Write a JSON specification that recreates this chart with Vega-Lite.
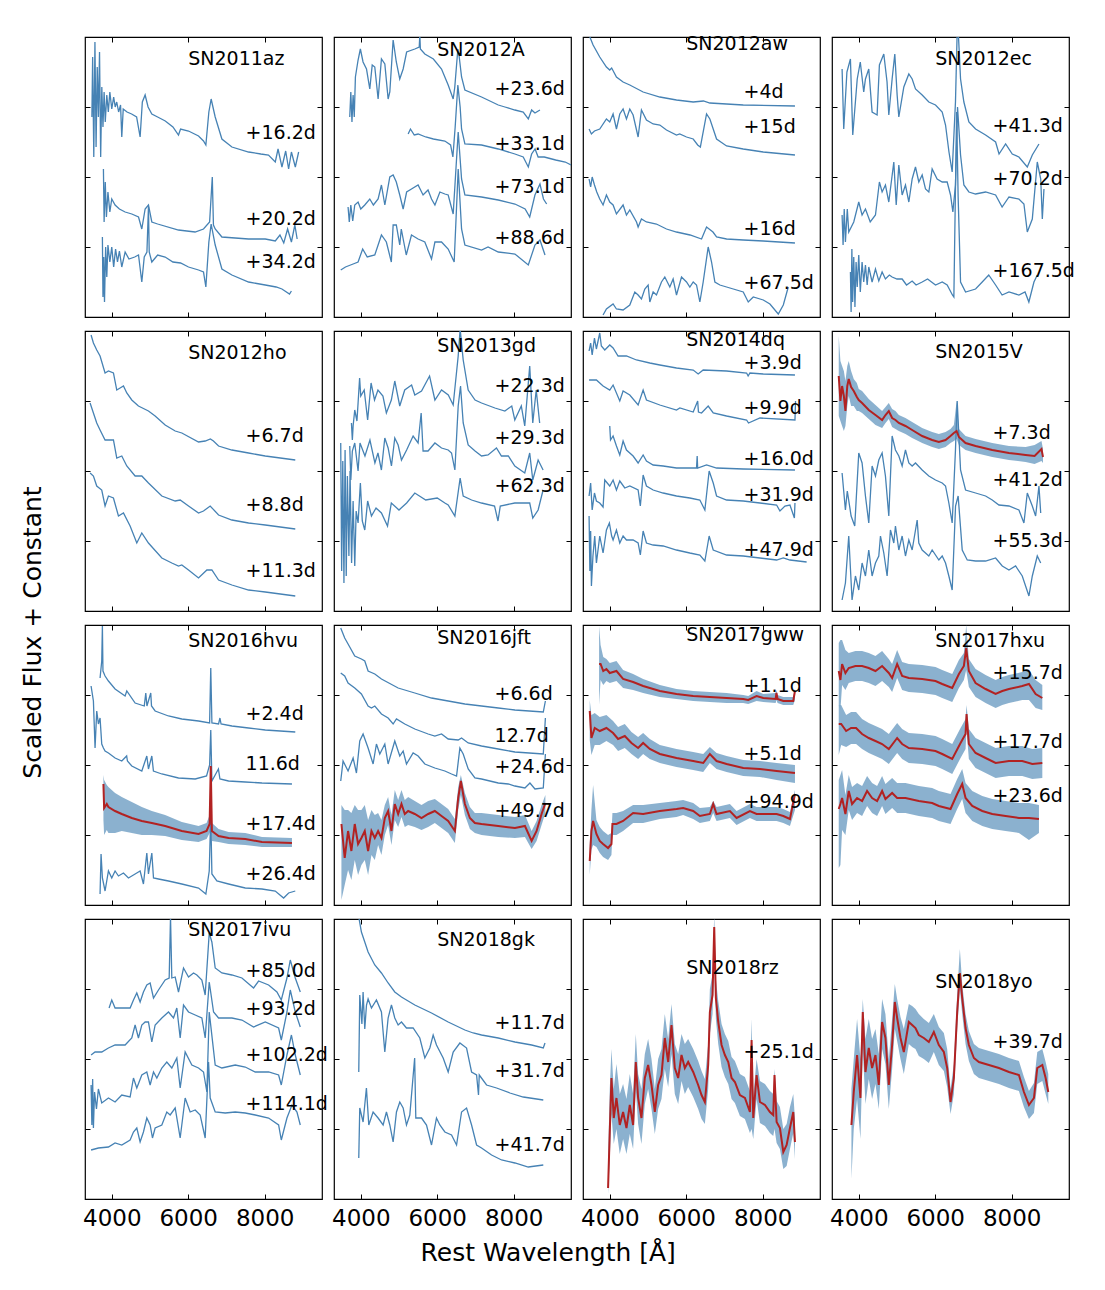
{
"$schema": "https://vega.github.io/schema/vega-lite/v6.json",
"background": "white",
"padding": {"left": 20, "top": 34, "right": 5, "bottom": 5},
"title": {"text": "Rest Wavelength [Å]", "orient": "bottom", "anchor": "middle", "fontSize": 25, "font": "DejaVu Sans", "fontWeight": "normal", "offset": 10, "color": "black"},
"data": {"values": [
{"p":1,"w":6000,"f":258,"t":"SN2011az"},{"p":1,"w":7500,"f":184,"t":"+16.2d"},{"p":1,"w":7500,"f":98,"t":"+20.2d"},{"p":1,"w":7500,"f":55,"t":"+34.2d"},
{"p":2,"w":6000,"f":267,"t":"SN2012A"},{"p":2,"w":7500,"f":228,"t":"+23.6d"},{"p":2,"w":7500,"f":173,"t":"+33.1d"},{"p":2,"w":7500,"f":130,"t":"+73.1d"},{"p":2,"w":7500,"f":79,"t":"+88.6d"},
{"p":3,"w":6000,"f":273,"t":"SN2012aw"},{"p":3,"w":7500,"f":225,"t":"+4d"},{"p":3,"w":7500,"f":190,"t":"+15d"},{"p":3,"w":7500,"f":88,"t":"+16d"},{"p":3,"w":7500,"f":34,"t":"+67.5d"},
{"p":4,"w":6000,"f":258,"t":"SN2012ec"},{"p":4,"w":7500,"f":191,"t":"+41.3d"},{"p":4,"w":7500,"f":138,"t":"+70.2d"},{"p":4,"w":7500,"f":46,"t":"+167.5d"},
{"p":5,"w":6000,"f":258,"t":"SN2012ho"},{"p":5,"w":7500,"f":175,"t":"+6.7d"},{"p":5,"w":7500,"f":106,"t":"+8.8d"},{"p":5,"w":7500,"f":40,"t":"+11.3d"},
{"p":6,"w":6000,"f":265,"t":"SN2013gd"},{"p":6,"w":7500,"f":225,"t":"+22.3d"},{"p":6,"w":7500,"f":173,"t":"+29.3d"},{"p":6,"w":7500,"f":125,"t":"+62.3d"},
{"p":7,"w":6000,"f":271,"t":"SN2014dq"},{"p":7,"w":7500,"f":248,"t":"+3.9d"},{"p":7,"w":7500,"f":203,"t":"+9.9d"},{"p":7,"w":7500,"f":152,"t":"+16.0d"},{"p":7,"w":7500,"f":116,"t":"+31.9d"},{"p":7,"w":7500,"f":61,"t":"+47.9d"},
{"p":8,"w":6000,"f":259,"t":"SN2015V"},{"p":8,"w":7500,"f":178,"t":"+7.3d"},{"p":8,"w":7500,"f":131,"t":"+41.2d"},{"p":8,"w":7500,"f":70,"t":"+55.3d"},
{"p":9,"w":6000,"f":264,"t":"SN2016hvu"},{"p":9,"w":7500,"f":191,"t":"+2.4d"},{"p":9,"w":7500,"f":141,"t":"11.6d"},{"p":9,"w":7500,"f":81,"t":"+17.4d"},{"p":9,"w":7500,"f":31,"t":"+26.4d"},
{"p":10,"w":6000,"f":267,"t":"SN2016jft"},{"p":10,"w":7500,"f":211,"t":"+6.6d"},{"p":10,"w":7500,"f":169,"t":"12.7d"},{"p":10,"w":7500,"f":138,"t":"+24.6d"},{"p":10,"w":7500,"f":94,"t":"+49.7d"},
{"p":11,"w":6000,"f":270,"t":"SN2017gww"},{"p":11,"w":7500,"f":219,"t":"+1.1d"},{"p":11,"w":7500,"f":151,"t":"+5.1d"},{"p":11,"w":7500,"f":103,"t":"+94.9d"},
{"p":12,"w":6000,"f":264,"t":"SN2017hxu"},{"p":12,"w":7500,"f":232,"t":"+15.7d"},{"p":12,"w":7500,"f":163,"t":"+17.7d"},{"p":12,"w":7500,"f":109,"t":"+23.6d"},
{"p":13,"w":6000,"f":269,"t":"SN2017ivu"},{"p":13,"w":7500,"f":228,"t":"+85.0d"},{"p":13,"w":7500,"f":190,"t":"+93.2d"},{"p":13,"w":7500,"f":144,"t":"+102.2d"},{"p":13,"w":7500,"f":95,"t":"+114.1d"},
{"p":14,"w":6000,"f":259,"t":"SN2018gk"},{"p":14,"w":7500,"f":176,"t":"+11.7d"},{"p":14,"w":7500,"f":128,"t":"+31.7d"},{"p":14,"w":7500,"f":54,"t":"+41.7d"},
{"p":15,"w":6000,"f":231,"t":"SN2018rz"},{"p":15,"w":7500,"f":147,"t":"+25.1d"},
{"p":16,"w":6000,"f":217,"t":"SN2018yo"},{"p":16,"w":7500,"f":157,"t":"+39.7d"},

{"p":1,"s":1,"w":3480,"f":200},{"p":1,"s":1,"w":3500,"f":260},{"p":1,"s":1,"w":3530,"f":160},{"p":1,"s":1,"w":3560,"f":275},{"p":1,"s":1,"w":3590,"f":170},{"p":1,"s":1,"w":3620,"f":250},{"p":1,"s":1,"w":3650,"f":200},{"p":1,"s":1,"w":3680,"f":265},{"p":1,"s":1,"w":3710,"f":160},{"p":1,"s":1,"w":3740,"f":230},{"p":1,"s":1,"w":3770,"f":190},{"p":1,"s":1,"w":3800,"f":225},{"p":1,"s":1,"w":3830,"f":195},{"p":1,"s":1,"w":3870,"f":222},{"p":1,"s":1,"w":3910,"f":205},{"p":1,"s":1,"w":3950,"f":225},{"p":1,"s":1,"w":4000,"f":208},{"p":1,"s":1,"w":4050,"f":220},{"p":1,"s":1,"w":4090,"f":210},{"p":1,"s":1,"w":4130,"f":215},{"p":1,"s":1,"w":4180,"f":205},{"p":1,"s":1,"w":4230,"f":212},{"p":1,"s":1,"w":4262,"f":180},{"p":1,"s":1,"w":4300,"f":208},{"p":1,"s":1,"w":4400,"f":205},{"p":1,"s":1,"w":4520,"f":203},{"p":1,"s":1,"w":4650,"f":200},{"p":1,"s":1,"w":4742,"f":180},{"p":1,"s":1,"w":4800,"f":215},{"p":1,"s":1,"w":4873,"f":222},{"p":1,"s":1,"w":4950,"f":210},{"p":1,"s":1,"w":5048,"f":203},{"p":1,"s":1,"w":5200,"f":200},{"p":1,"s":1,"w":5400,"f":196},{"p":1,"s":1,"w":5600,"f":190},{"p":1,"s":1,"w":5746,"f":182},{"p":1,"s":1,"w":5800,"f":188},{"p":1,"s":1,"w":6008,"f":186},{"p":1,"s":1,"w":6270,"f":181},{"p":1,"s":1,"w":6400,"f":176},{"p":1,"s":1,"w":6462,"f":172},{"p":1,"s":1,"w":6540,"f":205},{"p":1,"s":1,"w":6600,"f":218},{"p":1,"s":1,"w":6706,"f":200},{"p":1,"s":1,"w":6881,"f":178},{"p":1,"s":1,"w":7143,"f":170},{"p":1,"s":1,"w":7579,"f":165},{"p":1,"s":1,"w":7900,"f":163},{"p":1,"s":1,"w":8100,"f":162},{"p":1,"s":1,"w":8278,"f":155},{"p":1,"s":1,"w":8350,"f":168},{"p":1,"s":1,"w":8452,"f":150},{"p":1,"s":1,"w":8550,"f":166},{"p":1,"s":1,"w":8627,"f":148},{"p":1,"s":1,"w":8700,"f":165},{"p":1,"s":1,"w":8802,"f":150},{"p":1,"s":1,"w":8889,"f":165},
{"p":1,"s":2,"w":3782,"f":148},{"p":1,"s":2,"w":3800,"f":95},{"p":1,"s":2,"w":3830,"f":135},{"p":1,"s":2,"w":3860,"f":100},{"p":1,"s":2,"w":3900,"f":125},{"p":1,"s":2,"w":3950,"f":105},{"p":1,"s":2,"w":4000,"f":118},{"p":1,"s":2,"w":4087,"f":112},{"p":1,"s":2,"w":4200,"f":108},{"p":1,"s":2,"w":4350,"f":105},{"p":1,"s":2,"w":4524,"f":103},{"p":1,"s":2,"w":4700,"f":100},{"p":1,"s":2,"w":4786,"f":88},{"p":1,"s":2,"w":4873,"f":108},{"p":1,"s":2,"w":4960,"f":112},{"p":1,"s":2,"w":5048,"f":95},{"p":1,"s":2,"w":5200,"f":93},{"p":1,"s":2,"w":5746,"f":87},{"p":1,"s":2,"w":6180,"f":85},{"p":1,"s":2,"w":6400,"f":88},{"p":1,"s":2,"w":6560,"f":95},{"p":1,"s":2,"w":6630,"f":140},{"p":1,"s":2,"w":6660,"f":92},{"p":1,"s":2,"w":6706,"f":88},{"p":1,"s":2,"w":6881,"f":80},{"p":1,"s":2,"w":7579,"f":78},{"p":1,"s":2,"w":8016,"f":78},{"p":1,"s":2,"w":8278,"f":76},{"p":1,"s":2,"w":8400,"f":82},{"p":1,"s":2,"w":8500,"f":74},{"p":1,"s":2,"w":8600,"f":88},{"p":1,"s":2,"w":8700,"f":75},{"p":1,"s":2,"w":8790,"f":92},{"p":1,"s":2,"w":8850,"f":78},
{"p":1,"s":3,"w":3755,"f":80},{"p":1,"s":3,"w":3770,"f":20},{"p":1,"s":3,"w":3790,"f":60},{"p":1,"s":3,"w":3810,"f":15},{"p":1,"s":3,"w":3840,"f":70},{"p":1,"s":3,"w":3870,"f":40},{"p":1,"s":3,"w":3900,"f":72},{"p":1,"s":3,"w":3950,"f":55},{"p":1,"s":3,"w":4000,"f":70},{"p":1,"s":3,"w":4050,"f":50},{"p":1,"s":3,"w":4100,"f":68},{"p":1,"s":3,"w":4150,"f":55},{"p":1,"s":3,"w":4200,"f":66},{"p":1,"s":3,"w":4262,"f":50},{"p":1,"s":3,"w":4350,"f":65},{"p":1,"s":3,"w":4450,"f":58},{"p":1,"s":3,"w":4600,"f":60},{"p":1,"s":3,"w":4700,"f":62},{"p":1,"s":3,"w":4786,"f":35},{"p":1,"s":3,"w":4850,"f":60},{"p":1,"s":3,"w":4920,"f":65},{"p":1,"s":3,"w":4960,"f":110},{"p":1,"s":3,"w":4980,"f":65},{"p":1,"s":3,"w":5048,"f":55},{"p":1,"s":3,"w":5200,"f":62},{"p":1,"s":3,"w":5397,"f":60},{"p":1,"s":3,"w":5600,"f":55},{"p":1,"s":3,"w":5800,"f":54},{"p":1,"s":3,"w":6008,"f":50},{"p":1,"s":3,"w":6270,"f":47},{"p":1,"s":3,"w":6400,"f":45},{"p":1,"s":3,"w":6462,"f":30},{"p":1,"s":3,"w":6540,"f":75},{"p":1,"s":3,"w":6600,"f":93},{"p":1,"s":3,"w":6706,"f":72},{"p":1,"s":3,"w":6881,"f":48},{"p":1,"s":3,"w":7143,"f":42},{"p":1,"s":3,"w":7579,"f":35},{"p":1,"s":3,"w":8016,"f":32},{"p":1,"s":3,"w":8300,"f":30},{"p":1,"s":3,"w":8452,"f":28},{"p":1,"s":3,"w":8650,"f":23},{"p":1,"s":3,"w":8700,"f":26},

{"p":2,"s":1,"w":3712,"f":200},{"p":2,"s":1,"w":3740,"f":225},{"p":2,"s":1,"w":3770,"f":195},{"p":2,"s":1,"w":3800,"f":222},{"p":2,"s":1,"w":3830,"f":200},{"p":2,"s":1,"w":3860,"f":240},{"p":2,"s":1,"w":3930,"f":257},{"p":2,"s":1,"w":3990,"f":268},{"p":2,"s":1,"w":4060,"f":255},{"p":2,"s":1,"w":4150,"f":248},{"p":2,"s":1,"w":4236,"f":228},{"p":2,"s":1,"w":4300,"f":252},{"p":2,"s":1,"w":4367,"f":250},{"p":2,"s":1,"w":4454,"f":218},{"p":2,"s":1,"w":4541,"f":258},{"p":2,"s":1,"w":4630,"f":253},{"p":2,"s":1,"w":4716,"f":218},{"p":2,"s":1,"w":4760,"f":225},{"p":2,"s":1,"w":4847,"f":277},{"p":2,"s":1,"w":4930,"f":255},{"p":2,"s":1,"w":5020,"f":238},{"p":2,"s":1,"w":5109,"f":248},{"p":2,"s":1,"w":5200,"f":265},{"p":2,"s":1,"w":5414,"f":268},{"p":2,"s":1,"w":5530,"f":270},{"p":2,"s":1,"w":5545,"f":282},{"p":2,"s":1,"w":5560,"f":268},{"p":2,"s":1,"w":5676,"f":263},{"p":2,"s":1,"w":5900,"f":258},{"p":2,"s":1,"w":6113,"f":248},{"p":2,"s":1,"w":6287,"f":232},{"p":2,"s":1,"w":6418,"f":218},{"p":2,"s":1,"w":6460,"f":230},{"p":2,"s":1,"w":6540,"f":268},{"p":2,"s":1,"w":6570,"f":262},{"p":2,"s":1,"w":6637,"f":240},{"p":2,"s":1,"w":6724,"f":227},{"p":2,"s":1,"w":7160,"f":220},{"p":2,"s":1,"w":7597,"f":212},{"p":2,"s":1,"w":7771,"f":210},{"p":2,"s":1,"w":8033,"f":207},{"p":2,"s":1,"w":8250,"f":205},{"p":2,"s":1,"w":8383,"f":198},{"p":2,"s":1,"w":8470,"f":207},{"p":2,"s":1,"w":8557,"f":204},{"p":2,"s":1,"w":8688,"f":207},
{"p":2,"s":2,"w":5240,"f":183},{"p":2,"s":2,"w":5300,"f":188},{"p":2,"s":2,"w":5400,"f":182},{"p":2,"s":2,"w":5500,"f":183},{"p":2,"s":2,"w":5700,"f":180},{"p":2,"s":2,"w":5900,"f":178},{"p":2,"s":2,"w":6200,"f":176},{"p":2,"s":2,"w":6350,"f":172},{"p":2,"s":2,"w":6410,"f":160},{"p":2,"s":2,"w":6470,"f":190},{"p":2,"s":2,"w":6540,"f":232},{"p":2,"s":2,"w":6600,"f":210},{"p":2,"s":2,"w":6637,"f":188},{"p":2,"s":2,"w":6724,"f":173},{"p":2,"s":2,"w":7160,"f":172},{"p":2,"s":2,"w":7597,"f":168},{"p":2,"s":2,"w":8033,"f":163},{"p":2,"s":2,"w":8250,"f":160},{"p":2,"s":2,"w":8383,"f":150},{"p":2,"s":2,"w":8470,"f":163},{"p":2,"s":2,"w":8560,"f":168},{"p":2,"s":2,"w":8640,"f":160},{"p":2,"s":2,"w":8800,"f":160},{"p":2,"s":2,"w":9100,"f":157},{"p":2,"s":2,"w":9350,"f":155},{"p":2,"s":2,"w":9500,"f":152},
{"p":2,"s":3,"w":3668,"f":110},{"p":2,"s":3,"w":3700,"f":95},{"p":2,"s":3,"w":3740,"f":112},{"p":2,"s":3,"w":3790,"f":96},{"p":2,"s":3,"w":3843,"f":112},{"p":2,"s":3,"w":3930,"f":115},{"p":2,"s":3,"w":4000,"f":108},{"p":2,"s":3,"w":4105,"f":112},{"p":2,"s":3,"w":4236,"f":118},{"p":2,"s":3,"w":4330,"f":112},{"p":2,"s":3,"w":4454,"f":118},{"p":2,"s":3,"w":4541,"f":132},{"p":2,"s":3,"w":4630,"f":112},{"p":2,"s":3,"w":4760,"f":140},{"p":2,"s":3,"w":4847,"f":142},{"p":2,"s":3,"w":4930,"f":135},{"p":2,"s":3,"w":5020,"f":122},{"p":2,"s":3,"w":5109,"f":108},{"p":2,"s":3,"w":5200,"f":125},{"p":2,"s":3,"w":5327,"f":128},{"p":2,"s":3,"w":5500,"f":132},{"p":2,"s":3,"w":5630,"f":122},{"p":2,"s":3,"w":5760,"f":127},{"p":2,"s":3,"w":5851,"f":118},{"p":2,"s":3,"w":5940,"f":112},{"p":2,"s":3,"w":6070,"f":125},{"p":2,"s":3,"w":6200,"f":123},{"p":2,"s":3,"w":6287,"f":122},{"p":2,"s":3,"w":6418,"f":103},{"p":2,"s":3,"w":6549,"f":185},{"p":2,"s":3,"w":6637,"f":138},{"p":2,"s":3,"w":6724,"f":122},{"p":2,"s":3,"w":7160,"f":120},{"p":2,"s":3,"w":7597,"f":117},{"p":2,"s":3,"w":8033,"f":113},{"p":2,"s":3,"w":8300,"f":108},{"p":2,"s":3,"w":8420,"f":100},{"p":2,"s":3,"w":8557,"f":122},{"p":2,"s":3,"w":8688,"f":133},{"p":2,"s":3,"w":8780,"f":118},{"p":2,"s":3,"w":8863,"f":113},
{"p":2,"s":4,"w":3476,"f":47},{"p":2,"s":4,"w":3600,"f":50},{"p":2,"s":4,"w":3800,"f":53},{"p":2,"s":4,"w":3930,"f":55},{"p":2,"s":4,"w":4050,"f":68},{"p":2,"s":4,"w":4170,"f":60},{"p":2,"s":4,"w":4367,"f":62},{"p":2,"s":4,"w":4541,"f":82},{"p":2,"s":4,"w":4670,"f":75},{"p":2,"s":4,"w":4800,"f":55},{"p":2,"s":4,"w":4847,"f":92},{"p":2,"s":4,"w":4930,"f":92},{"p":2,"s":4,"w":5020,"f":72},{"p":2,"s":4,"w":5060,"f":88},{"p":2,"s":4,"w":5190,"f":62},{"p":2,"s":4,"w":5327,"f":82},{"p":2,"s":4,"w":5500,"f":78},{"p":2,"s":4,"w":5676,"f":75},{"p":2,"s":4,"w":5851,"f":58},{"p":2,"s":4,"w":5940,"f":75},{"p":2,"s":4,"w":6113,"f":75},{"p":2,"s":4,"w":6287,"f":68},{"p":2,"s":4,"w":6444,"f":55},{"p":2,"s":4,"w":6549,"f":148},{"p":2,"s":4,"w":6637,"f":88},{"p":2,"s":4,"w":6724,"f":72},{"p":2,"s":4,"w":7160,"f":67},{"p":2,"s":4,"w":7330,"f":70},{"p":2,"s":4,"w":7597,"f":65},{"p":2,"s":4,"w":8033,"f":63},{"p":2,"s":4,"w":8383,"f":52},{"p":2,"s":4,"w":8557,"f":72},{"p":2,"s":4,"w":8688,"f":77},{"p":2,"s":4,"w":8820,"f":62},

{"p":3,"s":1,"w":3459,"f":282},{"p":3,"s":1,"w":3564,"f":272},{"p":3,"s":1,"w":3738,"f":260},{"p":3,"s":1,"w":3913,"f":250},{"p":3,"s":1,"w":4000,"f":247},{"p":3,"s":1,"w":4050,"f":249},{"p":3,"s":1,"w":4175,"f":240},{"p":3,"s":1,"w":4349,"f":235},{"p":3,"s":1,"w":4524,"f":232},{"p":3,"s":1,"w":4873,"f":225},{"p":3,"s":1,"w":5310,"f":220},{"p":3,"s":1,"w":5746,"f":217},{"p":3,"s":1,"w":6183,"f":215},{"p":3,"s":1,"w":6450,"f":216},{"p":3,"s":1,"w":6619,"f":214},{"p":3,"s":1,"w":7492,"f":212},{"p":3,"s":1,"w":8845,"f":211},
{"p":3,"s":2,"w":3459,"f":188},{"p":3,"s":2,"w":3520,"f":183},{"p":3,"s":2,"w":3600,"f":186},{"p":3,"s":2,"w":3738,"f":188},{"p":3,"s":2,"w":3913,"f":198},{"p":3,"s":2,"w":4000,"f":195},{"p":3,"s":2,"w":4087,"f":203},{"p":3,"s":2,"w":4175,"f":188},{"p":3,"s":2,"w":4262,"f":203},{"p":3,"s":2,"w":4349,"f":208},{"p":3,"s":2,"w":4437,"f":198},{"p":3,"s":2,"w":4524,"f":208},{"p":3,"s":2,"w":4611,"f":202},{"p":3,"s":2,"w":4742,"f":180},{"p":3,"s":2,"w":4829,"f":207},{"p":3,"s":2,"w":4960,"f":197},{"p":3,"s":2,"w":5135,"f":193},{"p":3,"s":2,"w":5310,"f":192},{"p":3,"s":2,"w":5484,"f":187},{"p":3,"s":2,"w":5746,"f":182},{"p":3,"s":2,"w":5830,"f":183},{"p":3,"s":2,"w":6008,"f":180},{"p":3,"s":2,"w":6183,"f":178},{"p":3,"s":2,"w":6300,"f":172},{"p":3,"s":2,"w":6370,"f":170},{"p":3,"s":2,"w":6532,"f":203},{"p":3,"s":2,"w":6619,"f":198},{"p":3,"s":2,"w":6794,"f":178},{"p":3,"s":2,"w":7056,"f":171},{"p":3,"s":2,"w":7492,"f":168},{"p":3,"s":2,"w":7667,"f":167},{"p":3,"s":2,"w":8016,"f":165},{"p":3,"s":2,"w":8845,"f":162},
{"p":3,"s":3,"w":3459,"f":138},{"p":3,"s":3,"w":3500,"f":130},{"p":3,"s":3,"w":3540,"f":140},{"p":3,"s":3,"w":3600,"f":132},{"p":3,"s":3,"w":3660,"f":125},{"p":3,"s":3,"w":3738,"f":118},{"p":3,"s":3,"w":3825,"f":112},{"p":3,"s":3,"w":3913,"f":122},{"p":3,"s":3,"w":4000,"f":115},{"p":3,"s":3,"w":4087,"f":112},{"p":3,"s":3,"w":4175,"f":103},{"p":3,"s":3,"w":4349,"f":112},{"p":3,"s":3,"w":4437,"f":102},{"p":3,"s":3,"w":4524,"f":107},{"p":3,"s":3,"w":4700,"f":95},{"p":3,"s":3,"w":4742,"f":90},{"p":3,"s":3,"w":4829,"f":98},{"p":3,"s":3,"w":4960,"f":95},{"p":3,"s":3,"w":5220,"f":93},{"p":3,"s":3,"w":5484,"f":88},{"p":3,"s":3,"w":5746,"f":85},{"p":3,"s":3,"w":6100,"f":82},{"p":3,"s":3,"w":6401,"f":78},{"p":3,"s":3,"w":6532,"f":90},{"p":3,"s":3,"w":6700,"f":85},{"p":3,"s":3,"w":6794,"f":80},{"p":3,"s":3,"w":7056,"f":78},{"p":3,"s":3,"w":7492,"f":77},{"p":3,"s":3,"w":8016,"f":76},{"p":3,"s":3,"w":8845,"f":74},
{"p":3,"s":4,"w":3825,"f":2},{"p":3,"s":4,"w":3913,"f":8},{"p":3,"s":4,"w":4087,"f":13},{"p":3,"s":4,"w":4175,"f":8},{"p":3,"s":4,"w":4349,"f":7},{"p":3,"s":4,"w":4524,"f":12},{"p":3,"s":4,"w":4655,"f":25},{"p":3,"s":4,"w":4742,"f":22},{"p":3,"s":4,"w":4829,"f":18},{"p":3,"s":4,"w":4917,"f":28},{"p":3,"s":4,"w":5004,"f":32},{"p":3,"s":4,"w":5048,"f":15},{"p":3,"s":4,"w":5135,"f":25},{"p":3,"s":4,"w":5222,"f":22},{"p":3,"s":4,"w":5353,"f":35},{"p":3,"s":4,"w":5440,"f":40},{"p":3,"s":4,"w":5571,"f":30},{"p":3,"s":4,"w":5658,"f":38},{"p":3,"s":4,"w":5746,"f":22},{"p":3,"s":4,"w":5877,"f":40},{"p":3,"s":4,"w":6008,"f":35},{"p":3,"s":4,"w":6095,"f":30},{"p":3,"s":4,"w":6183,"f":35},{"p":3,"s":4,"w":6270,"f":32},{"p":3,"s":4,"w":6357,"f":15},{"p":3,"s":4,"w":6444,"f":35},{"p":3,"s":4,"w":6575,"f":70},{"p":3,"s":4,"w":6663,"f":55},{"p":3,"s":4,"w":6750,"f":35},{"p":3,"s":4,"w":6881,"f":32},{"p":3,"s":4,"w":7056,"f":30},{"p":3,"s":4,"w":7492,"f":25},{"p":3,"s":4,"w":7623,"f":15},{"p":3,"s":4,"w":7754,"f":20},{"p":3,"s":4,"w":8016,"f":17},{"p":3,"s":4,"w":8190,"f":13},{"p":3,"s":4,"w":8409,"f":3},{"p":3,"s":4,"w":8540,"f":12},{"p":3,"s":4,"w":8670,"f":30},

{"p":4,"s":1,"w":3564,"f":248},{"p":4,"s":1,"w":3607,"f":188},{"p":4,"s":1,"w":3690,"f":245},{"p":4,"s":1,"w":3782,"f":258},{"p":4,"s":1,"w":3843,"f":182},{"p":4,"s":1,"w":3960,"f":238},{"p":4,"s":1,"w":4040,"f":255},{"p":4,"s":1,"w":4130,"f":225},{"p":4,"s":1,"w":4175,"f":238},{"p":4,"s":1,"w":4262,"f":248},{"p":4,"s":1,"w":4349,"f":205},{"p":4,"s":1,"w":4480,"f":202},{"p":4,"s":1,"w":4540,"f":252},{"p":4,"s":1,"w":4655,"f":263},{"p":4,"s":1,"w":4740,"f":235},{"p":4,"s":1,"w":4786,"f":202},{"p":4,"s":1,"w":4873,"f":238},{"p":4,"s":1,"w":4943,"f":263},{"p":4,"s":1,"w":5004,"f":222},{"p":4,"s":1,"w":5048,"f":200},{"p":4,"s":1,"w":5179,"f":230},{"p":4,"s":1,"w":5310,"f":243},{"p":4,"s":1,"w":5397,"f":238},{"p":4,"s":1,"w":5484,"f":228},{"p":4,"s":1,"w":5659,"f":222},{"p":4,"s":1,"w":5833,"f":215},{"p":4,"s":1,"w":6008,"f":212},{"p":4,"s":1,"w":6183,"f":205},{"p":4,"s":1,"w":6270,"f":192},{"p":4,"s":1,"w":6360,"f":165},{"p":4,"s":1,"w":6444,"f":145},{"p":4,"s":1,"w":6530,"f":215},{"p":4,"s":1,"w":6584,"f":300},{"p":4,"s":1,"w":6663,"f":238},{"p":4,"s":1,"w":6750,"f":215},{"p":4,"s":1,"w":6881,"f":195},{"p":4,"s":1,"w":7056,"f":188},{"p":4,"s":1,"w":7318,"f":182},{"p":4,"s":1,"w":7580,"f":175},{"p":4,"s":1,"w":7670,"f":163},{"p":4,"s":1,"w":7842,"f":173},{"p":4,"s":1,"w":8016,"f":163},{"p":4,"s":1,"w":8190,"f":160},{"p":4,"s":1,"w":8409,"f":150},{"p":4,"s":1,"w":8540,"f":162},{"p":4,"s":1,"w":8714,"f":173},
{"p":4,"s":2,"w":3564,"f":102},{"p":4,"s":2,"w":3590,"f":72},{"p":4,"s":2,"w":3620,"f":108},{"p":4,"s":2,"w":3651,"f":75},{"p":4,"s":2,"w":3700,"f":108},{"p":4,"s":2,"w":3738,"f":85},{"p":4,"s":2,"w":3869,"f":95},{"p":4,"s":2,"w":4000,"f":115},{"p":4,"s":2,"w":4087,"f":102},{"p":4,"s":2,"w":4175,"f":108},{"p":4,"s":2,"w":4300,"f":95},{"p":4,"s":2,"w":4437,"f":102},{"p":4,"s":2,"w":4540,"f":135},{"p":4,"s":2,"w":4611,"f":125},{"p":4,"s":2,"w":4698,"f":132},{"p":4,"s":2,"w":4786,"f":115},{"p":4,"s":2,"w":4917,"f":155},{"p":4,"s":2,"w":4980,"f":112},{"p":4,"s":2,"w":5048,"f":152},{"p":4,"s":2,"w":5135,"f":122},{"p":4,"s":2,"w":5222,"f":132},{"p":4,"s":2,"w":5310,"f":115},{"p":4,"s":2,"w":5397,"f":138},{"p":4,"s":2,"w":5484,"f":150},{"p":4,"s":2,"w":5571,"f":135},{"p":4,"s":2,"w":5659,"f":142},{"p":4,"s":2,"w":5746,"f":128},{"p":4,"s":2,"w":5833,"f":125},{"p":4,"s":2,"w":5920,"f":148},{"p":4,"s":2,"w":6050,"f":138},{"p":4,"s":2,"w":6183,"f":135},{"p":4,"s":2,"w":6313,"f":135},{"p":4,"s":2,"w":6401,"f":122},{"p":4,"s":2,"w":6462,"f":105},{"p":4,"s":2,"w":6530,"f":132},{"p":4,"s":2,"w":6584,"f":210},{"p":4,"s":2,"w":6663,"f":162},{"p":4,"s":2,"w":6750,"f":132},{"p":4,"s":2,"w":6881,"f":125},{"p":4,"s":2,"w":7056,"f":123},{"p":4,"s":2,"w":7318,"f":125},{"p":4,"s":2,"w":7580,"f":122},{"p":4,"s":2,"w":7750,"f":110},{"p":4,"s":2,"w":7930,"f":120},{"p":4,"s":2,"w":8190,"f":118},{"p":4,"s":2,"w":8321,"f":113},{"p":4,"s":2,"w":8409,"f":85},{"p":4,"s":2,"w":8540,"f":98},{"p":4,"s":2,"w":8670,"f":155},{"p":4,"s":2,"w":8760,"f":138},{"p":4,"s":2,"w":8802,"f":98},{"p":4,"s":2,"w":8845,"f":128},
{"p":4,"s":3,"w":3782,"f":45},{"p":4,"s":3,"w":3800,"f":5},{"p":4,"s":3,"w":3820,"f":68},{"p":4,"s":3,"w":3840,"f":15},{"p":4,"s":3,"w":3869,"f":60},{"p":4,"s":3,"w":3900,"f":10},{"p":4,"s":3,"w":3930,"f":55},{"p":4,"s":3,"w":3960,"f":30},{"p":4,"s":3,"w":4000,"f":62},{"p":4,"s":3,"w":4040,"f":25},{"p":4,"s":3,"w":4087,"f":55},{"p":4,"s":3,"w":4130,"f":35},{"p":4,"s":3,"w":4175,"f":52},{"p":4,"s":3,"w":4220,"f":32},{"p":4,"s":3,"w":4262,"f":50},{"p":4,"s":3,"w":4349,"f":35},{"p":4,"s":3,"w":4437,"f":48},{"p":4,"s":3,"w":4524,"f":36},{"p":4,"s":3,"w":4611,"f":45},{"p":4,"s":3,"w":4698,"f":38},{"p":4,"s":3,"w":4800,"f":42},{"p":4,"s":3,"w":4873,"f":40},{"p":4,"s":3,"w":5000,"f":38},{"p":4,"s":3,"w":5135,"f":38},{"p":4,"s":3,"w":5250,"f":32},{"p":4,"s":3,"w":5397,"f":36},{"p":4,"s":3,"w":5500,"f":32},{"p":4,"s":3,"w":5659,"f":35},{"p":4,"s":3,"w":5800,"f":38},{"p":4,"s":3,"w":6008,"f":32},{"p":4,"s":3,"w":6183,"f":35},{"p":4,"s":3,"w":6313,"f":32},{"p":4,"s":3,"w":6450,"f":22},{"p":4,"s":3,"w":6488,"f":20},{"p":4,"s":3,"w":6560,"f":205},{"p":4,"s":3,"w":6600,"f":120},{"p":4,"s":3,"w":6663,"f":35},{"p":4,"s":3,"w":6794,"f":25},{"p":4,"s":3,"w":7056,"f":28},{"p":4,"s":3,"w":7230,"f":35},{"p":4,"s":3,"w":7400,"f":42},{"p":4,"s":3,"w":7580,"f":32},{"p":4,"s":3,"w":7750,"f":22},{"p":4,"s":3,"w":7930,"f":25},{"p":4,"s":3,"w":8190,"f":22},{"p":4,"s":3,"w":8350,"f":25},{"p":4,"s":3,"w":8450,"f":15},{"p":4,"s":3,"w":8583,"f":35},{"p":4,"s":3,"w":8670,"f":42},

{"p":5,"s":1,"w":3459,"f":276},{"p":5,"s":1,"w":3520,"f":268},{"p":5,"s":1,"w":3607,"f":261},{"p":5,"s":1,"w":3694,"f":255},{"p":5,"s":1,"w":3825,"f":238},{"p":5,"s":1,"w":3913,"f":240},{"p":5,"s":1,"w":4044,"f":238},{"p":5,"s":1,"w":4131,"f":221},{"p":5,"s":1,"w":4218,"f":223},{"p":5,"s":1,"w":4306,"f":225},{"p":5,"s":1,"w":4393,"f":218},{"p":5,"s":1,"w":4524,"f":211},{"p":5,"s":1,"w":4698,"f":205},{"p":5,"s":1,"w":4960,"f":200},{"p":5,"s":1,"w":5135,"f":195},{"p":5,"s":1,"w":5397,"f":186},{"p":5,"s":1,"w":5659,"f":180},{"p":5,"s":1,"w":5833,"f":178},{"p":5,"s":1,"w":6270,"f":169},{"p":5,"s":1,"w":6445,"f":170},{"p":5,"s":1,"w":6580,"f":172},{"p":5,"s":1,"w":6660,"f":170},{"p":5,"s":1,"w":6794,"f":165},{"p":5,"s":1,"w":7143,"f":161},{"p":5,"s":1,"w":7579,"f":158},{"p":5,"s":1,"w":8016,"f":155},{"p":5,"s":1,"w":8801,"f":151},
{"p":5,"s":2,"w":3433,"f":208},{"p":5,"s":2,"w":3520,"f":198},{"p":5,"s":2,"w":3607,"f":188},{"p":5,"s":2,"w":3694,"f":181},{"p":5,"s":2,"w":3825,"f":171},{"p":5,"s":2,"w":4044,"f":171},{"p":5,"s":2,"w":4131,"f":153},{"p":5,"s":2,"w":4262,"f":155},{"p":5,"s":2,"w":4393,"f":145},{"p":5,"s":2,"w":4611,"f":135},{"p":5,"s":2,"w":4786,"f":135},{"p":5,"s":2,"w":4960,"f":128},{"p":5,"s":2,"w":5310,"f":115},{"p":5,"s":2,"w":5659,"f":110},{"p":5,"s":2,"w":5790,"f":111},{"p":5,"s":2,"w":6008,"f":105},{"p":5,"s":2,"w":6270,"f":98},{"p":5,"s":2,"w":6400,"f":100},{"p":5,"s":2,"w":6575,"f":105},{"p":5,"s":2,"w":6794,"f":96},{"p":5,"s":2,"w":7143,"f":91},{"p":5,"s":2,"w":7579,"f":88},{"p":5,"s":2,"w":8016,"f":86},{"p":5,"s":2,"w":8801,"f":82},
{"p":5,"s":3,"w":3433,"f":138},{"p":5,"s":3,"w":3520,"f":135},{"p":5,"s":3,"w":3607,"f":125},{"p":5,"s":3,"w":3738,"f":121},{"p":5,"s":3,"w":3825,"f":105},{"p":5,"s":3,"w":3913,"f":115},{"p":5,"s":3,"w":4044,"f":113},{"p":5,"s":3,"w":4175,"f":95},{"p":5,"s":3,"w":4306,"f":98},{"p":5,"s":3,"w":4480,"f":85},{"p":5,"s":3,"w":4655,"f":68},{"p":5,"s":3,"w":4786,"f":78},{"p":5,"s":3,"w":4960,"f":68},{"p":5,"s":3,"w":5310,"f":53},{"p":5,"s":3,"w":5571,"f":48},{"p":5,"s":3,"w":5746,"f":45},{"p":5,"s":3,"w":5833,"f":46},{"p":5,"s":3,"w":6008,"f":41},{"p":5,"s":3,"w":6270,"f":33},{"p":5,"s":3,"w":6488,"f":41},{"p":5,"s":3,"w":6619,"f":41},{"p":5,"s":3,"w":6794,"f":31},{"p":5,"s":3,"w":7143,"f":26},{"p":5,"s":3,"w":7579,"f":21},{"p":5,"s":3,"w":8016,"f":19},{"p":5,"s":3,"w":8801,"f":15},

{"p":6,"s":1,"w":3756,"f":188},{"p":6,"s":1,"w":3780,"f":171},{"p":6,"s":1,"w":3800,"f":185},{"p":6,"s":1,"w":3843,"f":201},{"p":6,"s":1,"w":3900,"f":190},{"p":6,"s":1,"w":3930,"f":208},{"p":6,"s":1,"w":3970,"f":233},{"p":6,"s":1,"w":4000,"f":215},{"p":6,"s":1,"w":4090,"f":221},{"p":6,"s":1,"w":4180,"f":191},{"p":6,"s":1,"w":4270,"f":228},{"p":6,"s":1,"w":4360,"f":211},{"p":6,"s":1,"w":4450,"f":221},{"p":6,"s":1,"w":4580,"f":215},{"p":6,"s":1,"w":4670,"f":198},{"p":6,"s":1,"w":4800,"f":211},{"p":6,"s":1,"w":4890,"f":230},{"p":6,"s":1,"w":5020,"f":205},{"p":6,"s":1,"w":5150,"f":221},{"p":6,"s":1,"w":5330,"f":226},{"p":6,"s":1,"w":5414,"f":216},{"p":6,"s":1,"w":5590,"f":220},{"p":6,"s":1,"w":5800,"f":235},{"p":6,"s":1,"w":5940,"f":211},{"p":6,"s":1,"w":6113,"f":221},{"p":6,"s":1,"w":6290,"f":216},{"p":6,"s":1,"w":6418,"f":206},{"p":6,"s":1,"w":6549,"f":255},{"p":6,"s":1,"w":6600,"f":282},{"p":6,"s":1,"w":6680,"f":251},{"p":6,"s":1,"w":6810,"f":221},{"p":6,"s":1,"w":6990,"f":211},{"p":6,"s":1,"w":7160,"f":208},{"p":6,"s":1,"w":7510,"f":203},{"p":6,"s":1,"w":7770,"f":200},{"p":6,"s":1,"w":7950,"f":205},{"p":6,"s":1,"w":8030,"f":191},{"p":6,"s":1,"w":8200,"f":205},{"p":6,"s":1,"w":8290,"f":185},{"p":6,"s":1,"w":8420,"f":245},{"p":6,"s":1,"w":8500,"f":188},{"p":6,"s":1,"w":8590,"f":221},{"p":6,"s":1,"w":8680,"f":188},
{"p":6,"s":2,"w":3712,"f":165},{"p":6,"s":2,"w":3740,"f":131},{"p":6,"s":2,"w":3780,"f":160},{"p":6,"s":2,"w":3843,"f":168},{"p":6,"s":2,"w":3930,"f":140},{"p":6,"s":2,"w":3980,"f":168},{"p":6,"s":2,"w":4110,"f":155},{"p":6,"s":2,"w":4240,"f":171},{"p":6,"s":2,"w":4370,"f":148},{"p":6,"s":2,"w":4450,"f":158},{"p":6,"s":2,"w":4540,"f":141},{"p":6,"s":2,"w":4629,"f":173},{"p":6,"s":2,"w":4716,"f":163},{"p":6,"s":2,"w":4803,"f":145},{"p":6,"s":2,"w":4890,"f":173},{"p":6,"s":2,"w":4978,"f":166},{"p":6,"s":2,"w":5065,"f":151},{"p":6,"s":2,"w":5200,"f":161},{"p":6,"s":2,"w":5370,"f":175},{"p":6,"s":2,"w":5500,"f":168},{"p":6,"s":2,"w":5580,"f":198},{"p":6,"s":2,"w":5630,"f":160},{"p":6,"s":2,"w":5760,"f":160},{"p":6,"s":2,"w":5940,"f":168},{"p":6,"s":2,"w":6113,"f":163},{"p":6,"s":2,"w":6287,"f":161},{"p":6,"s":2,"w":6375,"f":158},{"p":6,"s":2,"w":6462,"f":141},{"p":6,"s":2,"w":6549,"f":205},{"p":6,"s":2,"w":6610,"f":225},{"p":6,"s":2,"w":6680,"f":188},{"p":6,"s":2,"w":6810,"f":166},{"p":6,"s":2,"w":6990,"f":160},{"p":6,"s":2,"w":7160,"f":155},{"p":6,"s":2,"w":7330,"f":156},{"p":6,"s":2,"w":7550,"f":163},{"p":6,"s":2,"w":7680,"f":155},{"p":6,"s":2,"w":7860,"f":155},{"p":6,"s":2,"w":8030,"f":145},{"p":6,"s":2,"w":8290,"f":138},{"p":6,"s":2,"w":8420,"f":158},{"p":6,"s":2,"w":8500,"f":131},{"p":6,"s":2,"w":8640,"f":151},{"p":6,"s":2,"w":8770,"f":141},
{"p":6,"s":3,"w":3476,"f":168},{"p":6,"s":3,"w":3500,"f":40},{"p":6,"s":3,"w":3530,"f":150},{"p":6,"s":3,"w":3560,"f":28},{"p":6,"s":3,"w":3590,"f":161},{"p":6,"s":3,"w":3620,"f":35},{"p":6,"s":3,"w":3650,"f":135},{"p":6,"s":3,"w":3690,"f":55},{"p":6,"s":3,"w":3720,"f":140},{"p":6,"s":3,"w":3760,"f":48},{"p":6,"s":3,"w":3800,"f":110},{"p":6,"s":3,"w":3843,"f":45},{"p":6,"s":3,"w":3880,"f":100},{"p":6,"s":3,"w":3930,"f":88},{"p":6,"s":3,"w":3990,"f":128},{"p":6,"s":3,"w":4040,"f":90},{"p":6,"s":3,"w":4105,"f":81},{"p":6,"s":3,"w":4180,"f":110},{"p":6,"s":3,"w":4280,"f":95},{"p":6,"s":3,"w":4400,"f":103},{"p":6,"s":3,"w":4541,"f":98},{"p":6,"s":3,"w":4700,"f":85},{"p":6,"s":3,"w":4800,"f":108},{"p":6,"s":3,"w":5000,"f":101},{"p":6,"s":3,"w":5200,"f":108},{"p":6,"s":3,"w":5414,"f":118},{"p":6,"s":3,"w":5700,"f":111},{"p":6,"s":3,"w":6000,"f":113},{"p":6,"s":3,"w":6200,"f":108},{"p":6,"s":3,"w":6287,"f":106},{"p":6,"s":3,"w":6462,"f":95},{"p":6,"s":3,"w":6600,"f":133},{"p":6,"s":3,"w":6680,"f":115},{"p":6,"s":3,"w":6900,"f":111},{"p":6,"s":3,"w":7160,"f":108},{"p":6,"s":3,"w":7500,"f":105},{"p":6,"s":3,"w":7590,"f":90},{"p":6,"s":3,"w":7650,"f":105},{"p":6,"s":3,"w":8030,"f":108},{"p":6,"s":3,"w":8420,"f":108},{"p":6,"s":3,"w":8500,"f":93},{"p":6,"s":3,"w":8640,"f":101},{"p":6,"s":3,"w":8770,"f":121},

{"p":7,"s":1,"w":3459,"f":260},{"p":7,"s":1,"w":3500,"f":268},{"p":7,"s":1,"w":3540,"f":256},{"p":7,"s":1,"w":3600,"f":273},{"p":7,"s":1,"w":3650,"f":262},{"p":7,"s":1,"w":3738,"f":278},{"p":7,"s":1,"w":3780,"f":265},{"p":7,"s":1,"w":3870,"f":261},{"p":7,"s":1,"w":4000,"f":266},{"p":7,"s":1,"w":4087,"f":263},{"p":7,"s":1,"w":4218,"f":255},{"p":7,"s":1,"w":4437,"f":255},{"p":7,"s":1,"w":4698,"f":251},{"p":7,"s":1,"w":5048,"f":248},{"p":7,"s":1,"w":5310,"f":246},{"p":7,"s":1,"w":5746,"f":243},{"p":7,"s":1,"w":6183,"f":241},{"p":7,"s":1,"w":6313,"f":237},{"p":7,"s":1,"w":6444,"f":241},{"p":7,"s":1,"w":7056,"f":240},{"p":7,"s":1,"w":7580,"f":238},{"p":7,"s":1,"w":7620,"f":235},{"p":7,"s":1,"w":7667,"f":238},{"p":7,"s":1,"w":8016,"f":237},{"p":7,"s":1,"w":8845,"f":236},
{"p":7,"s":2,"w":3459,"f":231},{"p":7,"s":2,"w":3651,"f":231},{"p":7,"s":2,"w":3825,"f":225},{"p":7,"s":2,"w":4000,"f":221},{"p":7,"s":2,"w":4087,"f":226},{"p":7,"s":2,"w":4262,"f":210},{"p":7,"s":2,"w":4349,"f":220},{"p":7,"s":2,"w":4524,"f":216},{"p":7,"s":2,"w":4742,"f":206},{"p":7,"s":2,"w":4873,"f":221},{"p":7,"s":2,"w":4960,"f":211},{"p":7,"s":2,"w":5310,"f":206},{"p":7,"s":2,"w":5746,"f":201},{"p":7,"s":2,"w":5833,"f":203},{"p":7,"s":2,"w":6183,"f":199},{"p":7,"s":2,"w":6300,"f":210},{"p":7,"s":2,"w":6320,"f":199},{"p":7,"s":2,"w":6401,"f":198},{"p":7,"s":2,"w":6575,"f":205},{"p":7,"s":2,"w":6707,"f":198},{"p":7,"s":2,"w":7056,"f":195},{"p":7,"s":2,"w":7580,"f":191},{"p":7,"s":2,"w":7630,"f":188},{"p":7,"s":2,"w":7929,"f":193},{"p":7,"s":2,"w":8845,"f":191},{"p":7,"s":2,"w":8860,"f":210},
{"p":7,"s":3,"w":4000,"f":185},{"p":7,"s":3,"w":4020,"f":171},{"p":7,"s":3,"w":4087,"f":175},{"p":7,"s":3,"w":4175,"f":165},{"p":7,"s":3,"w":4262,"f":156},{"p":7,"s":3,"w":4349,"f":170},{"p":7,"s":3,"w":4437,"f":161},{"p":7,"s":3,"w":4611,"f":155},{"p":7,"s":3,"w":4742,"f":148},{"p":7,"s":3,"w":4873,"f":156},{"p":7,"s":3,"w":4960,"f":150},{"p":7,"s":3,"w":5135,"f":146},{"p":7,"s":3,"w":5397,"f":145},{"p":7,"s":3,"w":5746,"f":143},{"p":7,"s":3,"w":6270,"f":143},{"p":7,"s":3,"w":6287,"f":155},{"p":7,"s":3,"w":6300,"f":143},{"p":7,"s":3,"w":6532,"f":146},{"p":7,"s":3,"w":6794,"f":143},{"p":7,"s":3,"w":7492,"f":142},{"p":7,"s":3,"w":8845,"f":141},
{"p":7,"s":4,"w":3459,"f":115},{"p":7,"s":4,"w":3500,"f":128},{"p":7,"s":4,"w":3540,"f":101},{"p":7,"s":4,"w":3600,"f":118},{"p":7,"s":4,"w":3651,"f":110},{"p":7,"s":4,"w":3738,"f":108},{"p":7,"s":4,"w":3825,"f":104},{"p":7,"s":4,"w":3869,"f":131},{"p":7,"s":4,"w":4000,"f":125},{"p":7,"s":4,"w":4087,"f":131},{"p":7,"s":4,"w":4175,"f":121},{"p":7,"s":4,"w":4262,"f":130},{"p":7,"s":4,"w":4393,"f":123},{"p":7,"s":4,"w":4524,"f":125},{"p":7,"s":4,"w":4742,"f":121},{"p":7,"s":4,"w":4800,"f":105},{"p":7,"s":4,"w":4873,"f":136},{"p":7,"s":4,"w":4960,"f":125},{"p":7,"s":4,"w":5135,"f":121},{"p":7,"s":4,"w":5397,"f":118},{"p":7,"s":4,"w":5746,"f":115},{"p":7,"s":4,"w":6095,"f":113},{"p":7,"s":4,"w":6357,"f":111},{"p":7,"s":4,"w":6488,"f":101},{"p":7,"s":4,"w":6600,"f":140},{"p":7,"s":4,"w":6707,"f":128},{"p":7,"s":4,"w":6794,"f":115},{"p":7,"s":4,"w":7056,"f":111},{"p":7,"s":4,"w":7492,"f":110},{"p":7,"s":4,"w":7929,"f":108},{"p":7,"s":4,"w":8365,"f":106},{"p":7,"s":4,"w":8452,"f":100},{"p":7,"s":4,"w":8583,"f":105},{"p":7,"s":4,"w":8714,"f":106},{"p":7,"s":4,"w":8830,"f":93},{"p":7,"s":4,"w":8845,"f":108},
{"p":7,"s":5,"w":3459,"f":95},{"p":7,"s":5,"w":3480,"f":40},{"p":7,"s":5,"w":3500,"f":80},{"p":7,"s":5,"w":3520,"f":25},{"p":7,"s":5,"w":3560,"f":55},{"p":7,"s":5,"w":3607,"f":75},{"p":7,"s":5,"w":3651,"f":48},{"p":7,"s":5,"w":3738,"f":75},{"p":7,"s":5,"w":3825,"f":58},{"p":7,"s":5,"w":3913,"f":81},{"p":7,"s":5,"w":3990,"f":88},{"p":7,"s":5,"w":4050,"f":75},{"p":7,"s":5,"w":4087,"f":71},{"p":7,"s":5,"w":4175,"f":81},{"p":7,"s":5,"w":4262,"f":68},{"p":7,"s":5,"w":4349,"f":75},{"p":7,"s":5,"w":4437,"f":71},{"p":7,"s":5,"w":4611,"f":71},{"p":7,"s":5,"w":4742,"f":68},{"p":7,"s":5,"w":4800,"f":56},{"p":7,"s":5,"w":4873,"f":80},{"p":7,"s":5,"w":4960,"f":68},{"p":7,"s":5,"w":5135,"f":66},{"p":7,"s":5,"w":5397,"f":65},{"p":7,"s":5,"w":5746,"f":61},{"p":7,"s":5,"w":6095,"f":58},{"p":7,"s":5,"w":6357,"f":56},{"p":7,"s":5,"w":6488,"f":50},{"p":7,"s":5,"w":6600,"f":75},{"p":7,"s":5,"w":6707,"f":61},{"p":7,"s":5,"w":7056,"f":56},{"p":7,"s":5,"w":7492,"f":55},{"p":7,"s":5,"w":7929,"f":53},{"p":7,"s":5,"w":8365,"f":51},{"p":7,"s":5,"w":8540,"f":53},{"p":7,"s":5,"w":8714,"f":51},{"p":7,"s":5,"w":9150,"f":49},

{"p":8,"s":1,"w":3476,"f":235,"lo":195,"hi":275},{"p":8,"s":1,"w":3520,"f":210,"lo":190,"hi":250},{"p":8,"s":1,"w":3564,"f":225,"lo":185,"hi":245},{"p":8,"s":1,"w":3610,"f":215,"lo":180,"hi":240},{"p":8,"s":1,"w":3651,"f":200,"lo":185,"hi":230},{"p":8,"s":1,"w":3700,"f":225,"lo":205,"hi":245},{"p":8,"s":1,"w":3738,"f":232,"lo":215,"hi":250},{"p":8,"s":1,"w":3800,"f":224,"lo":205,"hi":240},{"p":8,"s":1,"w":3869,"f":220,"lo":205,"hi":232},{"p":8,"s":1,"w":3950,"f":214,"lo":200,"hi":228},{"p":8,"s":1,"w":4000,"f":211,"lo":200,"hi":222},{"p":8,"s":1,"w":4087,"f":208,"lo":198,"hi":220},{"p":8,"s":1,"w":4262,"f":201,"lo":192,"hi":212},{"p":8,"s":1,"w":4437,"f":196,"lo":186,"hi":206},{"p":8,"s":1,"w":4611,"f":191,"lo":183,"hi":200},{"p":8,"s":1,"w":4700,"f":196,"lo":188,"hi":204},{"p":8,"s":1,"w":4786,"f":200,"lo":192,"hi":208},{"p":8,"s":1,"w":4873,"f":193,"lo":184,"hi":202},{"p":8,"s":1,"w":4960,"f":191,"lo":182,"hi":200},{"p":8,"s":1,"w":5048,"f":188,"lo":180,"hi":196},{"p":8,"s":1,"w":5222,"f":185,"lo":177,"hi":193},{"p":8,"s":1,"w":5397,"f":181,"lo":173,"hi":189},{"p":8,"s":1,"w":5659,"f":175,"lo":168,"hi":183},{"p":8,"s":1,"w":5920,"f":171,"lo":164,"hi":179},{"p":8,"s":1,"w":6095,"f":169,"lo":162,"hi":177},{"p":8,"s":1,"w":6270,"f":171,"lo":164,"hi":179},{"p":8,"s":1,"w":6400,"f":175,"lo":168,"hi":182},{"p":8,"s":1,"w":6488,"f":178,"lo":170,"hi":186},{"p":8,"s":1,"w":6560,"f":180,"lo":172,"hi":210},{"p":8,"s":1,"w":6620,"f":174,"lo":166,"hi":182},{"p":8,"s":1,"w":6794,"f":168,"lo":161,"hi":175},{"p":8,"s":1,"w":7056,"f":165,"lo":158,"hi":172},{"p":8,"s":1,"w":7492,"f":161,"lo":154,"hi":168},{"p":8,"s":1,"w":7929,"f":158,"lo":151,"hi":165},{"p":8,"s":1,"w":8365,"f":156,"lo":149,"hi":164},{"p":8,"s":1,"w":8600,"f":155,"lo":147,"hi":166},{"p":8,"s":1,"w":8780,"f":162,"lo":150,"hi":170},{"p":8,"s":1,"w":8820,"f":154,"lo":148,"hi":162},
{"p":8,"s":2,"w":3564,"f":138},{"p":8,"s":2,"w":3651,"f":101},{"p":8,"s":2,"w":3700,"f":120},{"p":8,"s":2,"w":3800,"f":95},{"p":8,"s":2,"w":3895,"f":85},{"p":8,"s":2,"w":4000,"f":158},{"p":8,"s":2,"w":4087,"f":148},{"p":8,"s":2,"w":4175,"f":115},{"p":8,"s":2,"w":4262,"f":88},{"p":8,"s":2,"w":4349,"f":145},{"p":8,"s":2,"w":4437,"f":135},{"p":8,"s":2,"w":4524,"f":151},{"p":8,"s":2,"w":4611,"f":158},{"p":8,"s":2,"w":4698,"f":135},{"p":8,"s":2,"w":4786,"f":95},{"p":8,"s":2,"w":4873,"f":175},{"p":8,"s":2,"w":4960,"f":161},{"p":8,"s":2,"w":5048,"f":155},{"p":8,"s":2,"w":5135,"f":145},{"p":8,"s":2,"w":5222,"f":161},{"p":8,"s":2,"w":5310,"f":148},{"p":8,"s":2,"w":5397,"f":145},{"p":8,"s":2,"w":5484,"f":148},{"p":8,"s":2,"w":5659,"f":141},{"p":8,"s":2,"w":5833,"f":135},{"p":8,"s":2,"w":6008,"f":131},{"p":8,"s":2,"w":6183,"f":128},{"p":8,"s":2,"w":6270,"f":125},{"p":8,"s":2,"w":6357,"f":108},{"p":8,"s":2,"w":6444,"f":88},{"p":8,"s":2,"w":6530,"f":161},{"p":8,"s":2,"w":6575,"f":210},{"p":8,"s":2,"w":6663,"f":141},{"p":8,"s":2,"w":6794,"f":121},{"p":8,"s":2,"w":7056,"f":118},{"p":8,"s":2,"w":7318,"f":115},{"p":8,"s":2,"w":7492,"f":111},{"p":8,"s":2,"w":7667,"f":106},{"p":8,"s":2,"w":7929,"f":105},{"p":8,"s":2,"w":8190,"f":101},{"p":8,"s":2,"w":8321,"f":88},{"p":8,"s":2,"w":8409,"f":118},{"p":8,"s":2,"w":8540,"f":105},{"p":8,"s":2,"w":8627,"f":95},{"p":8,"s":2,"w":8714,"f":125},{"p":8,"s":2,"w":8760,"f":98},
{"p":8,"s":3,"w":3564,"f":11},{"p":8,"s":3,"w":3651,"f":28},{"p":8,"s":3,"w":3738,"f":75},{"p":8,"s":3,"w":3825,"f":11},{"p":8,"s":3,"w":3913,"f":35},{"p":8,"s":3,"w":4000,"f":21},{"p":8,"s":3,"w":4087,"f":48},{"p":8,"s":3,"w":4175,"f":35},{"p":8,"s":3,"w":4262,"f":61},{"p":8,"s":3,"w":4349,"f":35},{"p":8,"s":3,"w":4437,"f":48},{"p":8,"s":3,"w":4524,"f":55},{"p":8,"s":3,"w":4568,"f":75},{"p":8,"s":3,"w":4655,"f":58},{"p":8,"s":3,"w":4742,"f":35},{"p":8,"s":3,"w":4829,"f":81},{"p":8,"s":3,"w":4917,"f":68},{"p":8,"s":3,"w":4960,"f":85},{"p":8,"s":3,"w":5048,"f":61},{"p":8,"s":3,"w":5135,"f":75},{"p":8,"s":3,"w":5222,"f":55},{"p":8,"s":3,"w":5310,"f":71},{"p":8,"s":3,"w":5397,"f":61},{"p":8,"s":3,"w":5528,"f":91},{"p":8,"s":3,"w":5571,"f":68},{"p":8,"s":3,"w":5659,"f":61},{"p":8,"s":3,"w":5833,"f":55},{"p":8,"s":3,"w":5920,"f":61},{"p":8,"s":3,"w":6095,"f":51},{"p":8,"s":3,"w":6183,"f":55},{"p":8,"s":3,"w":6270,"f":48},{"p":8,"s":3,"w":6357,"f":35},{"p":8,"s":3,"w":6444,"f":21},{"p":8,"s":3,"w":6532,"f":105},{"p":8,"s":3,"w":6600,"f":115},{"p":8,"s":3,"w":6707,"f":61},{"p":8,"s":3,"w":6838,"f":51},{"p":8,"s":3,"w":7056,"f":50},{"p":8,"s":3,"w":7318,"f":50},{"p":8,"s":3,"w":7580,"f":53},{"p":8,"s":3,"w":7754,"f":45},{"p":8,"s":3,"w":7929,"f":41},{"p":8,"s":3,"w":8103,"f":45},{"p":8,"s":3,"w":8277,"f":35},{"p":8,"s":3,"w":8452,"f":15},{"p":8,"s":3,"w":8540,"f":35},{"p":8,"s":3,"w":8670,"f":55},{"p":8,"s":3,"w":8760,"f":48},

{"p":9,"s":1,"w":3694,"f":227},{"p":9,"s":1,"w":3738,"f":244},{"p":9,"s":1,"w":3755,"f":279},{"p":9,"s":1,"w":3770,"f":234},{"p":9,"s":1,"w":3825,"f":229},{"p":9,"s":1,"w":3913,"f":224},{"p":9,"s":1,"w":4087,"f":216},{"p":9,"s":1,"w":4349,"f":209},{"p":9,"s":1,"w":4393,"f":214},{"p":9,"s":1,"w":4611,"f":202},{"p":9,"s":1,"w":4850,"f":199},{"p":9,"s":1,"w":4890,"f":212},{"p":9,"s":1,"w":4920,"f":199},{"p":9,"s":1,"w":5020,"f":212},{"p":9,"s":1,"w":5040,"f":199},{"p":9,"s":1,"w":5135,"f":194},{"p":9,"s":1,"w":5484,"f":189},{"p":9,"s":1,"w":5833,"f":186},{"p":9,"s":1,"w":6270,"f":184},{"p":9,"s":1,"w":6560,"f":182},{"p":9,"s":1,"w":6590,"f":237},{"p":9,"s":1,"w":6620,"f":182},{"p":9,"s":1,"w":6794,"f":181},{"p":9,"s":1,"w":6830,"f":187},{"p":9,"s":1,"w":6860,"f":181},{"p":9,"s":1,"w":7143,"f":179},{"p":9,"s":1,"w":7579,"f":177},{"p":9,"s":1,"w":8016,"f":175},{"p":9,"s":1,"w":8801,"f":173},
{"p":9,"s":2,"w":3459,"f":219},{"p":9,"s":2,"w":3520,"f":204},{"p":9,"s":2,"w":3563,"f":157},{"p":9,"s":2,"w":3607,"f":194},{"p":9,"s":2,"w":3651,"f":181},{"p":9,"s":2,"w":3694,"f":187},{"p":9,"s":2,"w":3738,"f":161},{"p":9,"s":2,"w":3782,"f":157},{"p":9,"s":2,"w":3825,"f":154},{"p":9,"s":2,"w":3913,"f":152},{"p":9,"s":2,"w":4087,"f":147},{"p":9,"s":2,"w":4262,"f":144},{"p":9,"s":2,"w":4390,"f":149},{"p":9,"s":2,"w":4410,"f":144},{"p":9,"s":2,"w":4524,"f":139},{"p":9,"s":2,"w":4786,"f":134},{"p":9,"s":2,"w":4917,"f":149},{"p":9,"s":2,"w":4960,"f":136},{"p":9,"s":2,"w":5048,"f":149},{"p":9,"s":2,"w":5090,"f":134},{"p":9,"s":2,"w":5310,"f":131},{"p":9,"s":2,"w":5746,"f":127},{"p":9,"s":2,"w":6183,"f":126},{"p":9,"s":2,"w":6480,"f":129},{"p":9,"s":2,"w":6560,"f":140},{"p":9,"s":2,"w":6590,"f":175},{"p":9,"s":2,"w":6620,"f":124},{"p":9,"s":2,"w":6790,"f":136},{"p":9,"s":2,"w":6830,"f":126},{"p":9,"s":2,"w":7056,"f":124},{"p":9,"s":2,"w":7492,"f":123},{"p":9,"s":2,"w":7929,"f":122},{"p":9,"s":2,"w":8714,"f":121},
{"p":9,"s":3,"w":3782,"f":121,"lo":85,"hi":130},{"p":9,"s":3,"w":3800,"f":97,"lo":70,"hi":125},{"p":9,"s":3,"w":3870,"f":101,"lo":75,"hi":120},{"p":9,"s":3,"w":3913,"f":98,"lo":72,"hi":118},{"p":9,"s":3,"w":4087,"f":94,"lo":72,"hi":112},{"p":9,"s":3,"w":4262,"f":91,"lo":74,"hi":108},{"p":9,"s":3,"w":4524,"f":87,"lo":72,"hi":103},{"p":9,"s":3,"w":4786,"f":84,"lo":70,"hi":98},{"p":9,"s":3,"w":5048,"f":82,"lo":70,"hi":94},{"p":9,"s":3,"w":5397,"f":79,"lo":69,"hi":90},{"p":9,"s":3,"w":5833,"f":74,"lo":65,"hi":83},{"p":9,"s":3,"w":6270,"f":71,"lo":63,"hi":79},{"p":9,"s":3,"w":6480,"f":74,"lo":66,"hi":82},{"p":9,"s":3,"w":6560,"f":81,"lo":72,"hi":90},{"p":9,"s":3,"w":6590,"f":139,"lo":75,"hi":150},{"p":9,"s":3,"w":6620,"f":74,"lo":64,"hi":82},{"p":9,"s":3,"w":6794,"f":69,"lo":63,"hi":76},{"p":9,"s":3,"w":7056,"f":67,"lo":61,"hi":73},{"p":9,"s":3,"w":7492,"f":66,"lo":60,"hi":72},{"p":9,"s":3,"w":7929,"f":63,"lo":58,"hi":68},{"p":9,"s":3,"w":8714,"f":62,"lo":58,"hi":67},
{"p":9,"s":4,"w":3694,"f":11},{"p":9,"s":4,"w":3720,"f":51},{"p":9,"s":4,"w":3755,"f":27},{"p":9,"s":4,"w":3825,"f":14},{"p":9,"s":4,"w":3913,"f":34},{"p":9,"s":4,"w":4000,"f":27},{"p":9,"s":4,"w":4087,"f":34},{"p":9,"s":4,"w":4175,"f":29},{"p":9,"s":4,"w":4306,"f":32},{"p":9,"s":4,"w":4437,"f":27},{"p":9,"s":4,"w":4611,"f":31},{"p":9,"s":4,"w":4742,"f":34},{"p":9,"s":4,"w":4829,"f":21},{"p":9,"s":4,"w":4917,"f":52},{"p":9,"s":4,"w":4960,"f":31},{"p":9,"s":4,"w":5048,"f":52},{"p":9,"s":4,"w":5092,"f":27},{"p":9,"s":4,"w":5222,"f":26},{"p":9,"s":4,"w":5484,"f":24},{"p":9,"s":4,"w":5833,"f":21},{"p":9,"s":4,"w":6270,"f":17},{"p":9,"s":4,"w":6462,"f":11},{"p":9,"s":4,"w":6550,"f":34},{"p":9,"s":4,"w":6590,"f":90},{"p":9,"s":4,"w":6620,"f":31},{"p":9,"s":4,"w":6750,"f":24},{"p":9,"s":4,"w":7056,"f":21},{"p":9,"s":4,"w":7492,"f":17},{"p":9,"s":4,"w":7929,"f":16},{"p":9,"s":4,"w":8277,"f":14},{"p":9,"s":4,"w":8496,"f":7},{"p":9,"s":4,"w":8627,"f":12},{"p":9,"s":4,"w":8801,"f":14},

{"p":10,"s":1,"w":3476,"f":277},{"p":10,"s":1,"w":3580,"f":267},{"p":10,"s":1,"w":3668,"f":261},{"p":10,"s":1,"w":3843,"f":249},{"p":10,"s":1,"w":4017,"f":246},{"p":10,"s":1,"w":4105,"f":244},{"p":10,"s":1,"w":4192,"f":234},{"p":10,"s":1,"w":4367,"f":231},{"p":10,"s":1,"w":4541,"f":226},{"p":10,"s":1,"w":4978,"f":217},{"p":10,"s":1,"w":5414,"f":212},{"p":10,"s":1,"w":5851,"f":207},{"p":10,"s":1,"w":6287,"f":204},{"p":10,"s":1,"w":6724,"f":201},{"p":10,"s":1,"w":7160,"f":199},{"p":10,"s":1,"w":7597,"f":197},{"p":10,"s":1,"w":8033,"f":195},{"p":10,"s":1,"w":8775,"f":193},{"p":10,"s":1,"w":8830,"f":204},
{"p":10,"s":2,"w":3476,"f":232},{"p":10,"s":2,"w":3580,"f":229},{"p":10,"s":2,"w":3668,"f":222},{"p":10,"s":2,"w":3843,"f":217},{"p":10,"s":2,"w":4017,"f":211},{"p":10,"s":2,"w":4192,"f":199},{"p":10,"s":2,"w":4280,"f":197},{"p":10,"s":2,"w":4367,"f":199},{"p":10,"s":2,"w":4541,"f":191},{"p":10,"s":2,"w":4716,"f":187},{"p":10,"s":2,"w":4847,"f":181},{"p":10,"s":2,"w":4934,"f":186},{"p":10,"s":2,"w":5152,"f":181},{"p":10,"s":2,"w":5414,"f":176},{"p":10,"s":2,"w":5763,"f":171},{"p":10,"s":2,"w":5938,"f":169},{"p":10,"s":2,"w":6113,"f":171},{"p":10,"s":2,"w":6287,"f":166},{"p":10,"s":2,"w":6549,"f":165},{"p":10,"s":2,"w":6637,"f":167},{"p":10,"s":2,"w":6811,"f":162},{"p":10,"s":2,"w":7160,"f":159},{"p":10,"s":2,"w":7597,"f":156},{"p":10,"s":2,"w":8033,"f":153},{"p":10,"s":2,"w":8775,"f":151},{"p":10,"s":2,"w":8830,"f":187},
{"p":10,"s":3,"w":3476,"f":124},{"p":10,"s":3,"w":3537,"f":144},{"p":10,"s":3,"w":3668,"f":134},{"p":10,"s":3,"w":3800,"f":147},{"p":10,"s":3,"w":3887,"f":132},{"p":10,"s":3,"w":3974,"f":164},{"p":10,"s":3,"w":4061,"f":171},{"p":10,"s":3,"w":4192,"f":157},{"p":10,"s":3,"w":4323,"f":141},{"p":10,"s":3,"w":4410,"f":161},{"p":10,"s":3,"w":4498,"f":151},{"p":10,"s":3,"w":4629,"f":161},{"p":10,"s":3,"w":4716,"f":141},{"p":10,"s":3,"w":4890,"f":164},{"p":10,"s":3,"w":5021,"f":149},{"p":10,"s":3,"w":5109,"f":154},{"p":10,"s":3,"w":5196,"f":141},{"p":10,"s":3,"w":5370,"f":152},{"p":10,"s":3,"w":5501,"f":149},{"p":10,"s":3,"w":5676,"f":141},{"p":10,"s":3,"w":5938,"f":137},{"p":10,"s":3,"w":6200,"f":134},{"p":10,"s":3,"w":6375,"f":131},{"p":10,"s":3,"w":6506,"f":129},{"p":10,"s":3,"w":6593,"f":157},{"p":10,"s":3,"w":6680,"f":151},{"p":10,"s":3,"w":6811,"f":136},{"p":10,"s":3,"w":6986,"f":127},{"p":10,"s":3,"w":7160,"f":126},{"p":10,"s":3,"w":7597,"f":122},{"p":10,"s":3,"w":7859,"f":121},{"p":10,"s":3,"w":8033,"f":119},{"p":10,"s":3,"w":8295,"f":117},{"p":10,"s":3,"w":8426,"f":122},{"p":10,"s":3,"w":8557,"f":116},{"p":10,"s":3,"w":8775,"f":117},{"p":10,"s":3,"w":8830,"f":151},
{"p":10,"s":4,"w":3494,"f":81,"lo":5,"hi":100},{"p":10,"s":4,"w":3580,"f":47,"lo":20,"hi":95},{"p":10,"s":4,"w":3668,"f":74,"lo":35,"hi":95},{"p":10,"s":4,"w":3755,"f":54,"lo":25,"hi":92},{"p":10,"s":4,"w":3843,"f":81,"lo":45,"hi":100},{"p":10,"s":4,"w":3930,"f":61,"lo":30,"hi":95},{"p":10,"s":4,"w":4017,"f":67,"lo":40,"hi":95},{"p":10,"s":4,"w":4105,"f":74,"lo":45,"hi":100},{"p":10,"s":4,"w":4192,"f":54,"lo":30,"hi":85},{"p":10,"s":4,"w":4280,"f":74,"lo":50,"hi":95},{"p":10,"s":4,"w":4367,"f":67,"lo":45,"hi":90},{"p":10,"s":4,"w":4454,"f":74,"lo":60,"hi":92},{"p":10,"s":4,"w":4541,"f":67,"lo":50,"hi":85},{"p":10,"s":4,"w":4629,"f":87,"lo":70,"hi":100},{"p":10,"s":4,"w":4716,"f":94,"lo":80,"hi":108},{"p":10,"s":4,"w":4803,"f":74,"lo":60,"hi":90},{"p":10,"s":4,"w":4890,"f":101,"lo":85,"hi":115},{"p":10,"s":4,"w":4978,"f":91,"lo":78,"hi":105},{"p":10,"s":4,"w":5065,"f":101,"lo":88,"hi":115},{"p":10,"s":4,"w":5152,"f":91,"lo":78,"hi":105},{"p":10,"s":4,"w":5240,"f":94,"lo":80,"hi":108},{"p":10,"s":4,"w":5414,"f":91,"lo":78,"hi":104},{"p":10,"s":4,"w":5589,"f":87,"lo":75,"hi":100},{"p":10,"s":4,"w":5763,"f":91,"lo":78,"hi":104},{"p":10,"s":4,"w":5938,"f":94,"lo":82,"hi":106},{"p":10,"s":4,"w":6113,"f":89,"lo":77,"hi":101},{"p":10,"s":4,"w":6287,"f":84,"lo":72,"hi":96},{"p":10,"s":4,"w":6462,"f":74,"lo":62,"hi":86},{"p":10,"s":4,"w":6549,"f":107,"lo":95,"hi":118},{"p":10,"s":4,"w":6619,"f":124,"lo":110,"hi":130},{"p":10,"s":4,"w":6724,"f":101,"lo":90,"hi":112},{"p":10,"s":4,"w":6855,"f":87,"lo":76,"hi":98},{"p":10,"s":4,"w":6986,"f":82,"lo":72,"hi":92},{"p":10,"s":4,"w":7160,"f":81,"lo":70,"hi":92},{"p":10,"s":4,"w":7597,"f":79,"lo":68,"hi":90},{"p":10,"s":4,"w":8033,"f":77,"lo":67,"hi":88},{"p":10,"s":4,"w":8295,"f":79,"lo":68,"hi":90},{"p":10,"s":4,"w":8470,"f":64,"lo":56,"hi":74},{"p":10,"s":4,"w":8600,"f":74,"lo":64,"hi":84},{"p":10,"s":4,"w":8730,"f":91,"lo":80,"hi":100},{"p":10,"s":4,"w":8830,"f":102,"lo":92,"hi":110},

{"p":11,"s":1,"w":3721,"f":241,"lo":200,"hi":279},{"p":11,"s":1,"w":3760,"f":241,"lo":225,"hi":260},{"p":11,"s":1,"w":3830,"f":234,"lo":220,"hi":248},{"p":11,"s":1,"w":3913,"f":236,"lo":224,"hi":246},{"p":11,"s":1,"w":4000,"f":232,"lo":222,"hi":242},{"p":11,"s":1,"w":4175,"f":234,"lo":224,"hi":244},{"p":11,"s":1,"w":4349,"f":226,"lo":217,"hi":235},{"p":11,"s":1,"w":4611,"f":223,"lo":215,"hi":231},{"p":11,"s":1,"w":4873,"f":219,"lo":212,"hi":226},{"p":11,"s":1,"w":5310,"f":214,"lo":208,"hi":220},{"p":11,"s":1,"w":5746,"f":211,"lo":206,"hi":216},{"p":11,"s":1,"w":6183,"f":209,"lo":204,"hi":214},{"p":11,"s":1,"w":6619,"f":208,"lo":203,"hi":213},{"p":11,"s":1,"w":7056,"f":207,"lo":202,"hi":212},{"p":11,"s":1,"w":7492,"f":206,"lo":202,"hi":210},{"p":11,"s":1,"w":7623,"f":205,"lo":201,"hi":209},{"p":11,"s":1,"w":7841,"f":209,"lo":204,"hi":214},{"p":11,"s":1,"w":8016,"f":207,"lo":203,"hi":211},{"p":11,"s":1,"w":8340,"f":206,"lo":202,"hi":212},{"p":11,"s":1,"w":8360,"f":212,"lo":205,"hi":215},{"p":11,"s":1,"w":8390,"f":206,"lo":202,"hi":210},{"p":11,"s":1,"w":8540,"f":204,"lo":200,"hi":208},{"p":11,"s":1,"w":8800,"f":204,"lo":200,"hi":208},{"p":11,"s":1,"w":8845,"f":214,"lo":205,"hi":216},
{"p":11,"s":2,"w":3476,"f":194,"lo":165,"hi":205},{"p":11,"s":2,"w":3520,"f":167,"lo":150,"hi":190},{"p":11,"s":2,"w":3607,"f":177,"lo":160,"hi":192},{"p":11,"s":2,"w":3738,"f":174,"lo":160,"hi":188},{"p":11,"s":2,"w":3913,"f":177,"lo":164,"hi":190},{"p":11,"s":2,"w":4087,"f":172,"lo":160,"hi":184},{"p":11,"s":2,"w":4218,"f":166,"lo":154,"hi":178},{"p":11,"s":2,"w":4393,"f":169,"lo":157,"hi":181},{"p":11,"s":2,"w":4568,"f":162,"lo":151,"hi":173},{"p":11,"s":2,"w":4742,"f":157,"lo":146,"hi":168},{"p":11,"s":2,"w":4873,"f":162,"lo":151,"hi":172},{"p":11,"s":2,"w":5048,"f":156,"lo":146,"hi":166},{"p":11,"s":2,"w":5310,"f":151,"lo":142,"hi":160},{"p":11,"s":2,"w":5746,"f":147,"lo":138,"hi":156},{"p":11,"s":2,"w":6183,"f":144,"lo":135,"hi":153},{"p":11,"s":2,"w":6445,"f":142,"lo":133,"hi":151},{"p":11,"s":2,"w":6619,"f":151,"lo":142,"hi":158},{"p":11,"s":2,"w":6794,"f":144,"lo":136,"hi":152},{"p":11,"s":2,"w":7056,"f":141,"lo":133,"hi":149},{"p":11,"s":2,"w":7492,"f":137,"lo":129,"hi":145},{"p":11,"s":2,"w":7929,"f":136,"lo":128,"hi":144},{"p":11,"s":2,"w":8365,"f":134,"lo":125,"hi":142},{"p":11,"s":2,"w":8845,"f":132,"lo":122,"hi":140},
{"p":11,"s":3,"w":3476,"f":44,"lo":30,"hi":60},{"p":11,"s":3,"w":3520,"f":74,"lo":55,"hi":95},{"p":11,"s":3,"w":3564,"f":84,"lo":60,"hi":120},{"p":11,"s":3,"w":3651,"f":71,"lo":58,"hi":85},{"p":11,"s":3,"w":3738,"f":64,"lo":52,"hi":78},{"p":11,"s":3,"w":3825,"f":61,"lo":48,"hi":74},{"p":11,"s":3,"w":3956,"f":57,"lo":45,"hi":70},{"p":11,"s":3,"w":4044,"f":61,"lo":50,"hi":72},{"p":11,"s":3,"w":4070,"f":81,"lo":70,"hi":92},{"p":11,"s":3,"w":4175,"f":81,"lo":70,"hi":92},{"p":11,"s":3,"w":4349,"f":84,"lo":74,"hi":94},{"p":11,"s":3,"w":4611,"f":92,"lo":82,"hi":100},{"p":11,"s":3,"w":4873,"f":91,"lo":82,"hi":100},{"p":11,"s":3,"w":5310,"f":94,"lo":86,"hi":102},{"p":11,"s":3,"w":5746,"f":96,"lo":88,"hi":104},{"p":11,"s":3,"w":5920,"f":97,"lo":90,"hi":105},{"p":11,"s":3,"w":6183,"f":94,"lo":86,"hi":102},{"p":11,"s":3,"w":6357,"f":89,"lo":82,"hi":97},{"p":11,"s":3,"w":6619,"f":91,"lo":84,"hi":98},{"p":11,"s":3,"w":6706,"f":101,"lo":92,"hi":104},{"p":11,"s":3,"w":6794,"f":91,"lo":84,"hi":98},{"p":11,"s":3,"w":7143,"f":94,"lo":87,"hi":101},{"p":11,"s":3,"w":7318,"f":87,"lo":80,"hi":94},{"p":11,"s":3,"w":7667,"f":94,"lo":87,"hi":101},{"p":11,"s":3,"w":7841,"f":91,"lo":84,"hi":98},{"p":11,"s":3,"w":8365,"f":91,"lo":84,"hi":98},{"p":11,"s":3,"w":8540,"f":89,"lo":82,"hi":96},{"p":11,"s":3,"w":8714,"f":86,"lo":79,"hi":93},{"p":11,"s":3,"w":8845,"f":111,"lo":95,"hi":115},

{"p":12,"s":1,"w":3476,"f":234,"lo":200,"hi":262},{"p":12,"s":1,"w":3520,"f":225,"lo":195,"hi":265},{"p":12,"s":1,"w":3564,"f":241,"lo":220,"hi":265},{"p":12,"s":1,"w":3651,"f":232,"lo":215,"hi":255},{"p":12,"s":1,"w":3738,"f":237,"lo":222,"hi":252},{"p":12,"s":1,"w":3913,"f":239,"lo":224,"hi":254},{"p":12,"s":1,"w":4087,"f":239,"lo":224,"hi":254},{"p":12,"s":1,"w":4262,"f":237,"lo":222,"hi":252},{"p":12,"s":1,"w":4437,"f":234,"lo":219,"hi":249},{"p":12,"s":1,"w":4611,"f":239,"lo":224,"hi":254},{"p":12,"s":1,"w":4786,"f":232,"lo":218,"hi":246},{"p":12,"s":1,"w":4873,"f":227,"lo":213,"hi":241},{"p":12,"s":1,"w":5004,"f":241,"lo":227,"hi":255},{"p":12,"s":1,"w":5135,"f":229,"lo":215,"hi":243},{"p":12,"s":1,"w":5310,"f":227,"lo":213,"hi":241},{"p":12,"s":1,"w":5659,"f":226,"lo":212,"hi":240},{"p":12,"s":1,"w":6008,"f":224,"lo":210,"hi":238},{"p":12,"s":1,"w":6183,"f":221,"lo":207,"hi":235},{"p":12,"s":1,"w":6445,"f":217,"lo":203,"hi":231},{"p":12,"s":1,"w":6620,"f":231,"lo":217,"hi":245},{"p":12,"s":1,"w":6750,"f":239,"lo":225,"hi":252},{"p":12,"s":1,"w":6811,"f":257,"lo":235,"hi":280},{"p":12,"s":1,"w":6880,"f":234,"lo":218,"hi":246},{"p":12,"s":1,"w":7056,"f":222,"lo":208,"hi":236},{"p":12,"s":1,"w":7318,"f":216,"lo":202,"hi":230},{"p":12,"s":1,"w":7580,"f":211,"lo":197,"hi":225},{"p":12,"s":1,"w":7754,"f":214,"lo":200,"hi":228},{"p":12,"s":1,"w":7929,"f":216,"lo":202,"hi":230},{"p":12,"s":1,"w":8277,"f":219,"lo":205,"hi":233},{"p":12,"s":1,"w":8452,"f":221,"lo":205,"hi":235},{"p":12,"s":1,"w":8627,"f":211,"lo":197,"hi":225},{"p":12,"s":1,"w":8802,"f":207,"lo":195,"hi":220},
{"p":12,"s":2,"w":3476,"f":181,"lo":150,"hi":200},{"p":12,"s":2,"w":3540,"f":181,"lo":160,"hi":200},{"p":12,"s":2,"w":3670,"f":174,"lo":158,"hi":190},{"p":12,"s":2,"w":3800,"f":177,"lo":161,"hi":193},{"p":12,"s":2,"w":3930,"f":177,"lo":161,"hi":193},{"p":12,"s":2,"w":4087,"f":171,"lo":156,"hi":186},{"p":12,"s":2,"w":4262,"f":167,"lo":152,"hi":182},{"p":12,"s":2,"w":4437,"f":164,"lo":149,"hi":179},{"p":12,"s":2,"w":4611,"f":161,"lo":146,"hi":176},{"p":12,"s":2,"w":4786,"f":156,"lo":141,"hi":171},{"p":12,"s":2,"w":5004,"f":167,"lo":152,"hi":182},{"p":12,"s":2,"w":5135,"f":161,"lo":146,"hi":176},{"p":12,"s":2,"w":5310,"f":157,"lo":142,"hi":172},{"p":12,"s":2,"w":5659,"f":156,"lo":141,"hi":171},{"p":12,"s":2,"w":6008,"f":154,"lo":139,"hi":169},{"p":12,"s":2,"w":6183,"f":151,"lo":136,"hi":166},{"p":12,"s":2,"w":6445,"f":146,"lo":131,"hi":161},{"p":12,"s":2,"w":6663,"f":162,"lo":147,"hi":177},{"p":12,"s":2,"w":6794,"f":171,"lo":156,"hi":186},{"p":12,"s":2,"w":6820,"f":191,"lo":175,"hi":200},{"p":12,"s":2,"w":6880,"f":161,"lo":146,"hi":176},{"p":12,"s":2,"w":7056,"f":152,"lo":137,"hi":167},{"p":12,"s":2,"w":7318,"f":147,"lo":132,"hi":162},{"p":12,"s":2,"w":7580,"f":142,"lo":127,"hi":157},{"p":12,"s":2,"w":7929,"f":144,"lo":129,"hi":159},{"p":12,"s":2,"w":8277,"f":144,"lo":129,"hi":159},{"p":12,"s":2,"w":8540,"f":141,"lo":126,"hi":156},{"p":12,"s":2,"w":8802,"f":142,"lo":127,"hi":157},
{"p":12,"s":3,"w":3476,"f":96,"lo":37,"hi":125},{"p":12,"s":3,"w":3520,"f":101,"lo":40,"hi":130},{"p":12,"s":3,"w":3564,"f":107,"lo":75,"hi":135},{"p":12,"s":3,"w":3651,"f":91,"lo":70,"hi":110},{"p":12,"s":3,"w":3738,"f":114,"lo":95,"hi":130},{"p":12,"s":3,"w":3825,"f":101,"lo":85,"hi":118},{"p":12,"s":3,"w":3956,"f":107,"lo":92,"hi":122},{"p":12,"s":3,"w":4087,"f":104,"lo":89,"hi":119},{"p":12,"s":3,"w":4218,"f":114,"lo":99,"hi":129},{"p":12,"s":3,"w":4349,"f":107,"lo":92,"hi":122},{"p":12,"s":3,"w":4480,"f":104,"lo":89,"hi":119},{"p":12,"s":3,"w":4611,"f":114,"lo":99,"hi":129},{"p":12,"s":3,"w":4698,"f":106,"lo":91,"hi":121},{"p":12,"s":3,"w":4873,"f":112,"lo":97,"hi":127},{"p":12,"s":3,"w":5004,"f":107,"lo":92,"hi":122},{"p":12,"s":3,"w":5222,"f":107,"lo":92,"hi":122},{"p":12,"s":3,"w":5571,"f":104,"lo":89,"hi":119},{"p":12,"s":3,"w":5920,"f":102,"lo":87,"hi":117},{"p":12,"s":3,"w":6095,"f":99,"lo":84,"hi":114},{"p":12,"s":3,"w":6401,"f":96,"lo":81,"hi":111},{"p":12,"s":3,"w":6575,"f":111,"lo":96,"hi":126},{"p":12,"s":3,"w":6706,"f":121,"lo":106,"hi":136},{"p":12,"s":3,"w":6794,"f":107,"lo":92,"hi":122},{"p":12,"s":3,"w":6969,"f":99,"lo":84,"hi":114},{"p":12,"s":3,"w":7231,"f":94,"lo":79,"hi":109},{"p":12,"s":3,"w":7492,"f":91,"lo":76,"hi":106},{"p":12,"s":3,"w":7841,"f":89,"lo":74,"hi":104},{"p":12,"s":3,"w":8190,"f":87,"lo":72,"hi":102},{"p":12,"s":3,"w":8452,"f":87,"lo":65,"hi":102},{"p":12,"s":3,"w":8714,"f":86,"lo":72,"hi":100},

{"p":13,"s":1,"w":3930,"f":191},{"p":13,"s":1,"w":4000,"f":199},{"p":13,"s":1,"w":4087,"f":191},{"p":13,"s":1,"w":4262,"f":191},{"p":13,"s":1,"w":4480,"f":191},{"p":13,"s":1,"w":4568,"f":199},{"p":13,"s":1,"w":4655,"f":206},{"p":13,"s":1,"w":4742,"f":197},{"p":13,"s":1,"w":4829,"f":207},{"p":13,"s":1,"w":4917,"f":214},{"p":13,"s":1,"w":5004,"f":216},{"p":13,"s":1,"w":5092,"f":201},{"p":13,"s":1,"w":5222,"f":209},{"p":13,"s":1,"w":5397,"f":219},{"p":13,"s":1,"w":5502,"f":221},{"p":13,"s":1,"w":5537,"f":282},{"p":13,"s":1,"w":5571,"f":221},{"p":13,"s":1,"w":5659,"f":222},{"p":13,"s":1,"w":5746,"f":207},{"p":13,"s":1,"w":5877,"f":231},{"p":13,"s":1,"w":6008,"f":222},{"p":13,"s":1,"w":6139,"f":226},{"p":13,"s":1,"w":6226,"f":224},{"p":13,"s":1,"w":6357,"f":219},{"p":13,"s":1,"w":6444,"f":204},{"p":13,"s":1,"w":6550,"f":266},{"p":13,"s":1,"w":6619,"f":257},{"p":13,"s":1,"w":6706,"f":231},{"p":13,"s":1,"w":6881,"f":226},{"p":13,"s":1,"w":7143,"f":224},{"p":13,"s":1,"w":7405,"f":221},{"p":13,"s":1,"w":7710,"f":211},{"p":13,"s":1,"w":7841,"f":218},{"p":13,"s":1,"w":8103,"f":214},{"p":13,"s":1,"w":8321,"f":207},{"p":13,"s":1,"w":8435,"f":199},{"p":13,"s":1,"w":8583,"f":221},{"p":13,"s":1,"w":8670,"f":239},{"p":13,"s":1,"w":8801,"f":221},{"p":13,"s":1,"w":8932,"f":207},
{"p":13,"s":2,"w":3459,"f":144},{"p":13,"s":2,"w":3563,"f":147},{"p":13,"s":2,"w":3738,"f":147},{"p":13,"s":2,"w":3913,"f":151},{"p":13,"s":2,"w":4087,"f":154},{"p":13,"s":2,"w":4349,"f":154},{"p":13,"s":2,"w":4524,"f":161},{"p":13,"s":2,"w":4611,"f":174},{"p":13,"s":2,"w":4698,"f":161},{"p":13,"s":2,"w":4786,"f":174},{"p":13,"s":2,"w":4873,"f":177},{"p":13,"s":2,"w":4960,"f":177},{"p":13,"s":2,"w":5048,"f":157},{"p":13,"s":2,"w":5135,"f":174},{"p":13,"s":2,"w":5310,"f":181},{"p":13,"s":2,"w":5484,"f":187},{"p":13,"s":2,"w":5615,"f":181},{"p":13,"s":2,"w":5702,"f":191},{"p":13,"s":2,"w":5790,"f":161},{"p":13,"s":2,"w":5877,"f":194},{"p":13,"s":2,"w":6008,"f":187},{"p":13,"s":2,"w":6183,"f":184},{"p":13,"s":2,"w":6357,"f":181},{"p":13,"s":2,"w":6444,"f":161},{"p":13,"s":2,"w":6550,"f":217},{"p":13,"s":2,"w":6663,"f":187},{"p":13,"s":2,"w":6794,"f":181},{"p":13,"s":2,"w":7143,"f":181},{"p":13,"s":2,"w":7405,"f":179},{"p":13,"s":2,"w":7710,"f":172},{"p":13,"s":2,"w":8016,"f":177},{"p":13,"s":2,"w":8365,"f":171},{"p":13,"s":2,"w":8435,"f":159},{"p":13,"s":2,"w":8583,"f":187},{"p":13,"s":2,"w":8670,"f":209},{"p":13,"s":2,"w":8801,"f":187},{"p":13,"s":2,"w":8932,"f":172},
{"p":13,"s":3,"w":3459,"f":114},{"p":13,"s":3,"w":3480,"f":74},{"p":13,"s":3,"w":3500,"f":120},{"p":13,"s":3,"w":3520,"f":71},{"p":13,"s":3,"w":3550,"f":107},{"p":13,"s":3,"w":3600,"f":90},{"p":13,"s":3,"w":3650,"f":110},{"p":13,"s":3,"w":3738,"f":96},{"p":13,"s":3,"w":3913,"f":101},{"p":13,"s":3,"w":4087,"f":97},{"p":13,"s":3,"w":4262,"f":104},{"p":13,"s":3,"w":4480,"f":102},{"p":13,"s":3,"w":4568,"f":121},{"p":13,"s":3,"w":4655,"f":111},{"p":13,"s":3,"w":4786,"f":124},{"p":13,"s":3,"w":4917,"f":127},{"p":13,"s":3,"w":5004,"f":114},{"p":13,"s":3,"w":5092,"f":127},{"p":13,"s":3,"w":5179,"f":121},{"p":13,"s":3,"w":5310,"f":131},{"p":13,"s":3,"w":5440,"f":137},{"p":13,"s":3,"w":5571,"f":131},{"p":13,"s":3,"w":5702,"f":141},{"p":13,"s":3,"w":5790,"f":111},{"p":13,"s":3,"w":5920,"f":147},{"p":13,"s":3,"w":6095,"f":134},{"p":13,"s":3,"w":6270,"f":131},{"p":13,"s":3,"w":6401,"f":127},{"p":13,"s":3,"w":6488,"f":107},{"p":13,"s":3,"w":6550,"f":187},{"p":13,"s":3,"w":6706,"f":134},{"p":13,"s":3,"w":6881,"f":131},{"p":13,"s":3,"w":7230,"f":134},{"p":13,"s":3,"w":7492,"f":132},{"p":13,"s":3,"w":7754,"f":127},{"p":13,"s":3,"w":8103,"f":127},{"p":13,"s":3,"w":8365,"f":124},{"p":13,"s":3,"w":8435,"f":114},{"p":13,"s":3,"w":8583,"f":144},{"p":13,"s":3,"w":8700,"f":164},{"p":13,"s":3,"w":8801,"f":144},{"p":13,"s":3,"w":8932,"f":124},
{"p":13,"s":4,"w":3459,"f":49},{"p":13,"s":4,"w":3651,"f":51},{"p":13,"s":4,"w":3913,"f":52},{"p":13,"s":4,"w":4087,"f":56},{"p":13,"s":4,"w":4262,"f":54},{"p":13,"s":4,"w":4480,"f":59},{"p":13,"s":4,"w":4568,"f":67},{"p":13,"s":4,"w":4655,"f":71},{"p":13,"s":4,"w":4742,"f":57},{"p":13,"s":4,"w":4829,"f":67},{"p":13,"s":4,"w":4917,"f":81},{"p":13,"s":4,"w":5004,"f":74},{"p":13,"s":4,"w":5065,"f":61},{"p":13,"s":4,"w":5135,"f":71},{"p":13,"s":4,"w":5310,"f":74},{"p":13,"s":4,"w":5440,"f":87},{"p":13,"s":4,"w":5528,"f":84},{"p":13,"s":4,"w":5659,"f":91},{"p":13,"s":4,"w":5790,"f":61},{"p":13,"s":4,"w":5920,"f":101},{"p":13,"s":4,"w":6051,"f":87},{"p":13,"s":4,"w":6183,"f":89},{"p":13,"s":4,"w":6313,"f":84},{"p":13,"s":4,"w":6444,"f":61},{"p":13,"s":4,"w":6532,"f":137},{"p":13,"s":4,"w":6575,"f":101},{"p":13,"s":4,"w":6706,"f":87},{"p":13,"s":4,"w":6968,"f":86},{"p":13,"s":4,"w":7230,"f":87},{"p":13,"s":4,"w":7492,"f":86},{"p":13,"s":4,"w":7754,"f":84},{"p":13,"s":4,"w":8103,"f":81},{"p":13,"s":4,"w":8365,"f":74},{"p":13,"s":4,"w":8435,"f":59},{"p":13,"s":4,"w":8583,"f":81},{"p":13,"s":4,"w":8714,"f":94},{"p":13,"s":4,"w":8845,"f":87},{"p":13,"s":4,"w":8932,"f":74},

{"p":14,"s":1,"w":3948,"f":282},{"p":14,"s":1,"w":4017,"f":267},{"p":14,"s":1,"w":4105,"f":257},{"p":14,"s":1,"w":4192,"f":247},{"p":14,"s":1,"w":4367,"f":234},{"p":14,"s":1,"w":4541,"f":226},{"p":14,"s":1,"w":4716,"f":216},{"p":14,"s":1,"w":4890,"f":207},{"p":14,"s":1,"w":5065,"f":202},{"p":14,"s":1,"w":5414,"f":194},{"p":14,"s":1,"w":5851,"f":186},{"p":14,"s":1,"w":6287,"f":177},{"p":14,"s":1,"w":6724,"f":169},{"p":14,"s":1,"w":6942,"f":166},{"p":14,"s":1,"w":7160,"f":164},{"p":14,"s":1,"w":7597,"f":161},{"p":14,"s":1,"w":8033,"f":157},{"p":14,"s":1,"w":8470,"f":154},{"p":14,"s":1,"w":8775,"f":151},{"p":14,"s":1,"w":8820,"f":156},
{"p":14,"s":2,"w":3948,"f":127},{"p":14,"s":2,"w":3974,"f":204},{"p":14,"s":2,"w":4030,"f":175},{"p":14,"s":2,"w":4061,"f":207},{"p":14,"s":2,"w":4105,"f":170},{"p":14,"s":2,"w":4150,"f":194},{"p":14,"s":2,"w":4192,"f":200},{"p":14,"s":2,"w":4280,"f":191},{"p":14,"s":2,"w":4410,"f":199},{"p":14,"s":2,"w":4541,"f":187},{"p":14,"s":2,"w":4629,"f":147},{"p":14,"s":2,"w":4716,"f":181},{"p":14,"s":2,"w":4803,"f":194},{"p":14,"s":2,"w":4890,"f":181},{"p":14,"s":2,"w":4978,"f":174},{"p":14,"s":2,"w":5065,"f":177},{"p":14,"s":2,"w":5196,"f":171},{"p":14,"s":2,"w":5370,"f":171},{"p":14,"s":2,"w":5545,"f":161},{"p":14,"s":2,"w":5676,"f":141},{"p":14,"s":2,"w":5807,"f":151},{"p":14,"s":2,"w":5894,"f":164},{"p":14,"s":2,"w":5981,"f":154},{"p":14,"s":2,"w":6156,"f":141},{"p":14,"s":2,"w":6287,"f":127},{"p":14,"s":2,"w":6418,"f":147},{"p":14,"s":2,"w":6593,"f":156},{"p":14,"s":2,"w":6768,"f":151},{"p":14,"s":2,"w":6899,"f":127},{"p":14,"s":2,"w":7030,"f":124},{"p":14,"s":2,"w":7080,"f":104},{"p":14,"s":2,"w":7100,"f":124},{"p":14,"s":2,"w":7291,"f":114},{"p":14,"s":2,"w":7553,"f":111},{"p":14,"s":2,"w":7902,"f":106},{"p":14,"s":2,"w":8251,"f":102},{"p":14,"s":2,"w":8775,"f":99},
{"p":14,"s":3,"w":3948,"f":41},{"p":14,"s":3,"w":3974,"f":91},{"p":14,"s":3,"w":4061,"f":77},{"p":14,"s":3,"w":4148,"f":111},{"p":14,"s":3,"w":4210,"f":74},{"p":14,"s":3,"w":4323,"f":87},{"p":14,"s":3,"w":4454,"f":81},{"p":14,"s":3,"w":4585,"f":74},{"p":14,"s":3,"w":4672,"f":87},{"p":14,"s":3,"w":4760,"f":74},{"p":14,"s":3,"w":4847,"f":57},{"p":14,"s":3,"w":4934,"f":87},{"p":14,"s":3,"w":5021,"f":97},{"p":14,"s":3,"w":5109,"f":91},{"p":14,"s":3,"w":5196,"f":74},{"p":14,"s":3,"w":5283,"f":84},{"p":14,"s":3,"w":5410,"f":141},{"p":14,"s":3,"w":5440,"f":81},{"p":14,"s":3,"w":5589,"f":81},{"p":14,"s":3,"w":5720,"f":74},{"p":14,"s":3,"w":5851,"f":54},{"p":14,"s":3,"w":5981,"f":81},{"p":14,"s":3,"w":6069,"f":74},{"p":14,"s":3,"w":6200,"f":67},{"p":14,"s":3,"w":6375,"f":64},{"p":14,"s":3,"w":6506,"f":54},{"p":14,"s":3,"w":6637,"f":87},{"p":14,"s":3,"w":6768,"f":91},{"p":14,"s":3,"w":6899,"f":74},{"p":14,"s":3,"w":7030,"f":54},{"p":14,"s":3,"w":7160,"f":51},{"p":14,"s":3,"w":7422,"f":44},{"p":14,"s":3,"w":7684,"f":39},{"p":14,"s":3,"w":8033,"f":36},{"p":14,"s":3,"w":8382,"f":32},{"p":14,"s":3,"w":8775,"f":34},

{"p":15,"s":1,"w":3956,"f":11,"lo":5,"hi":40},{"p":15,"s":1,"w":4000,"f":67,"lo":40,"hi":110},{"p":15,"s":1,"w":4044,"f":121,"lo":85,"hi":150},{"p":15,"s":1,"w":4105,"f":81,"lo":55,"hi":110},{"p":15,"s":1,"w":4175,"f":101,"lo":70,"hi":135},{"p":15,"s":1,"w":4262,"f":74,"lo":45,"hi":105},{"p":15,"s":1,"w":4349,"f":87,"lo":60,"hi":115},{"p":15,"s":1,"w":4437,"f":71,"lo":45,"hi":100},{"p":15,"s":1,"w":4524,"f":94,"lo":65,"hi":125},{"p":15,"s":1,"w":4611,"f":74,"lo":50,"hi":105},{"p":15,"s":1,"w":4681,"f":137,"lo":110,"hi":165},{"p":15,"s":1,"w":4742,"f":101,"lo":75,"hi":125},{"p":15,"s":1,"w":4829,"f":81,"lo":55,"hi":110},{"p":15,"s":1,"w":4917,"f":121,"lo":95,"hi":145},{"p":15,"s":1,"w":5004,"f":134,"lo":110,"hi":160},{"p":15,"s":1,"w":5092,"f":114,"lo":90,"hi":140},{"p":15,"s":1,"w":5179,"f":87,"lo":65,"hi":110},{"p":15,"s":1,"w":5266,"f":114,"lo":90,"hi":140},{"p":15,"s":1,"w":5353,"f":124,"lo":100,"hi":150},{"p":15,"s":1,"w":5440,"f":161,"lo":130,"hi":185},{"p":15,"s":1,"w":5528,"f":137,"lo":112,"hi":160},{"p":15,"s":1,"w":5615,"f":174,"lo":145,"hi":195},{"p":15,"s":1,"w":5702,"f":131,"lo":105,"hi":155},{"p":15,"s":1,"w":5790,"f":121,"lo":95,"hi":145},{"p":15,"s":1,"w":5877,"f":144,"lo":118,"hi":165},{"p":15,"s":1,"w":5964,"f":131,"lo":105,"hi":155},{"p":15,"s":1,"w":6051,"f":137,"lo":112,"hi":160},{"p":15,"s":1,"w":6183,"f":127,"lo":102,"hi":150},{"p":15,"s":1,"w":6313,"f":114,"lo":90,"hi":138},{"p":15,"s":1,"w":6401,"f":104,"lo":80,"hi":128},{"p":15,"s":1,"w":6488,"f":97,"lo":75,"hi":120},{"p":15,"s":1,"w":6575,"f":134,"lo":110,"hi":155},{"p":15,"s":1,"w":6619,"f":187,"lo":165,"hi":210},{"p":15,"s":1,"w":6689,"f":204,"lo":185,"hi":225},{"p":15,"s":1,"w":6733,"f":272,"lo":240,"hi":285},{"p":15,"s":1,"w":6776,"f":201,"lo":180,"hi":220},{"p":15,"s":1,"w":6838,"f":177,"lo":155,"hi":198},{"p":15,"s":1,"w":6925,"f":154,"lo":132,"hi":175},{"p":15,"s":1,"w":7012,"f":144,"lo":122,"hi":165},{"p":15,"s":1,"w":7100,"f":137,"lo":115,"hi":158},{"p":15,"s":1,"w":7187,"f":121,"lo":100,"hi":142},{"p":15,"s":1,"w":7274,"f":117,"lo":96,"hi":138},{"p":15,"s":1,"w":7405,"f":104,"lo":83,"hi":125},{"p":15,"s":1,"w":7536,"f":101,"lo":80,"hi":122},{"p":15,"s":1,"w":7667,"f":87,"lo":66,"hi":108},{"p":15,"s":1,"w":7710,"f":159,"lo":70,"hi":180},{"p":15,"s":1,"w":7754,"f":81,"lo":60,"hi":102},{"p":15,"s":1,"w":7841,"f":124,"lo":100,"hi":140},{"p":15,"s":1,"w":7929,"f":97,"lo":76,"hi":118},{"p":15,"s":1,"w":8060,"f":94,"lo":73,"hi":115},{"p":15,"s":1,"w":8190,"f":87,"lo":66,"hi":108},{"p":15,"s":1,"w":8277,"f":84,"lo":63,"hi":105},{"p":15,"s":1,"w":8310,"f":124,"lo":70,"hi":130},{"p":15,"s":1,"w":8365,"f":77,"lo":56,"hi":98},{"p":15,"s":1,"w":8452,"f":71,"lo":50,"hi":92},{"p":15,"s":1,"w":8540,"f":47,"lo":30,"hi":70},{"p":15,"s":1,"w":8627,"f":54,"lo":33,"hi":75},{"p":15,"s":1,"w":8714,"f":71,"lo":50,"hi":92},{"p":15,"s":1,"w":8801,"f":87,"lo":66,"hi":105},{"p":15,"s":1,"w":8845,"f":57,"lo":40,"hi":80},

{"p":16,"s":1,"w":3808,"f":74,"lo":20,"hi":110},{"p":16,"s":1,"w":3869,"f":107,"lo":70,"hi":140},{"p":16,"s":1,"w":3956,"f":144,"lo":100,"hi":180},{"p":16,"s":1,"w":4044,"f":101,"lo":60,"hi":140},{"p":16,"s":1,"w":4105,"f":187,"lo":150,"hi":200},{"p":16,"s":1,"w":4175,"f":127,"lo":95,"hi":160},{"p":16,"s":1,"w":4262,"f":151,"lo":120,"hi":180},{"p":16,"s":1,"w":4349,"f":131,"lo":100,"hi":160},{"p":16,"s":1,"w":4437,"f":144,"lo":115,"hi":170},{"p":16,"s":1,"w":4524,"f":114,"lo":90,"hi":145},{"p":16,"s":1,"w":4611,"f":177,"lo":150,"hi":200},{"p":16,"s":1,"w":4698,"f":161,"lo":135,"hi":185},{"p":16,"s":1,"w":4786,"f":114,"lo":90,"hi":140},{"p":16,"s":1,"w":4873,"f":154,"lo":130,"hi":180},{"p":16,"s":1,"w":4943,"f":197,"lo":170,"hi":215},{"p":16,"s":1,"w":5004,"f":181,"lo":158,"hi":200},{"p":16,"s":1,"w":5092,"f":161,"lo":140,"hi":182},{"p":16,"s":1,"w":5179,"f":147,"lo":125,"hi":170},{"p":16,"s":1,"w":5310,"f":177,"lo":155,"hi":195},{"p":16,"s":1,"w":5397,"f":174,"lo":152,"hi":193},{"p":16,"s":1,"w":5484,"f":171,"lo":150,"hi":190},{"p":16,"s":1,"w":5571,"f":164,"lo":143,"hi":185},{"p":16,"s":1,"w":5702,"f":161,"lo":140,"hi":180},{"p":16,"s":1,"w":5833,"f":157,"lo":136,"hi":176},{"p":16,"s":1,"w":5964,"f":167,"lo":147,"hi":185},{"p":16,"s":1,"w":6095,"f":154,"lo":134,"hi":172},{"p":16,"s":1,"w":6226,"f":147,"lo":128,"hi":166},{"p":16,"s":1,"w":6313,"f":131,"lo":112,"hi":150},{"p":16,"s":1,"w":6401,"f":97,"lo":85,"hi":110},{"p":16,"s":1,"w":6488,"f":121,"lo":105,"hi":135},{"p":16,"s":1,"w":6575,"f":187,"lo":170,"hi":205},{"p":16,"s":1,"w":6645,"f":226,"lo":210,"hi":250},{"p":16,"s":1,"w":6706,"f":201,"lo":185,"hi":215},{"p":16,"s":1,"w":6794,"f":171,"lo":155,"hi":185},{"p":16,"s":1,"w":6881,"f":154,"lo":138,"hi":168},{"p":16,"s":1,"w":7012,"f":141,"lo":125,"hi":155},{"p":16,"s":1,"w":7143,"f":137,"lo":121,"hi":151},{"p":16,"s":1,"w":7405,"f":134,"lo":118,"hi":148},{"p":16,"s":1,"w":7667,"f":131,"lo":115,"hi":145},{"p":16,"s":1,"w":7929,"f":127,"lo":111,"hi":141},{"p":16,"s":1,"w":8190,"f":124,"lo":108,"hi":138},{"p":16,"s":1,"w":8321,"f":107,"lo":92,"hi":122},{"p":16,"s":1,"w":8452,"f":94,"lo":80,"hi":108},{"p":16,"s":1,"w":8583,"f":101,"lo":86,"hi":116},{"p":16,"s":1,"w":8670,"f":131,"lo":115,"hi":147},{"p":16,"s":1,"w":8802,"f":134,"lo":118,"hi":150},{"p":16,"s":1,"w":8889,"f":121,"lo":105,"hi":137},{"p":16,"s":1,"w":8958,"f":107,"lo":95,"hi":125}
]},
"vconcat": [{
  "title": {"text": "Scaled Flux + Constant", "orient": "left", "fontSize": 25, "font": "DejaVu Sans", "fontWeight": "normal", "offset": 36, "color": "black", "anchor": "middle"},
  "spacing": 10,
  "vconcat": [
    {"transform": [{"filter": "datum.p <= 4"}],
     "facet": {"column": {"field": "p", "type": "ordinal", "header": {"title": null, "labels": false}}},
     "spacing": 12, "bounds": "flush",
     "resolve": {"axis": {"x": "independent", "y": "independent"}},
     "spec": {"width": 237, "height": 280,
       "resolve": {"axis": {"x": "independent", "y": "independent"}},
       "layer": [
        {"transform": [{"filter": "datum.lo != null"}], "mark": {"type": "area", "color": "#7ea8ca", "opacity": 0.9, "clip": true},
         "encoding": {"x": {"field": "w", "type": "quantitative", "scale": {"domain": [3300, 9500], "nice": false}, "axis": {"orient": "bottom", "values": [4000, 6000, 8000], "labels": false, "title": null}},
                      "y": {"field": "lo", "type": "quantitative", "scale": {"domain": [0, 280], "nice": false}, "axis": {"orient": "left", "values": [70, 140, 210], "labels": false, "title": null}},
                      "y2": {"field": "hi"}, "detail": {"field": "s"}}},
        {"transform": [{"filter": "datum.t == null && datum.lo == null"}], "mark": {"type": "line", "color": "#4682b4", "strokeWidth": 1.3, "clip": true},
         "encoding": {"x": {"field": "w", "type": "quantitative", "axis": null}, "y": {"field": "f", "type": "quantitative", "axis": null}, "detail": {"field": "s"}}},
        {"transform": [{"filter": "datum.lo != null"}], "mark": {"type": "line", "color": "#b22222", "strokeWidth": 2, "clip": true},
         "encoding": {"x": {"field": "w", "type": "quantitative", "axis": null}, "y": {"field": "f", "type": "quantitative", "axis": null}, "detail": {"field": "s"}}},
        {"transform": [{"filter": "datum.t != null"}], "mark": {"type": "text", "align": "left", "baseline": "middle", "fontSize": 19, "font": "DejaVu Sans", "color": "black"},
         "encoding": {"x": {"field": "w", "type": "quantitative", "axis": {"orient": "top", "values": [4000, 6000, 8000], "labels": false, "title": null}},
                      "y": {"field": "f", "type": "quantitative", "axis": {"orient": "right", "values": [70, 140, 210], "labels": false, "title": null}},
                      "text": {"field": "t"}}}
       ]}},
    {"transform": [{"filter": "datum.p >= 5 && datum.p <= 8"}],
     "facet": {"column": {"field": "p", "type": "ordinal", "header": {"title": null, "labels": false}}},
     "spacing": 12, "bounds": "flush",
     "resolve": {"axis": {"x": "independent", "y": "independent"}},
     "spec": {"width": 237, "height": 280,
       "resolve": {"axis": {"x": "independent", "y": "independent"}},
       "layer": [
        {"transform": [{"filter": "datum.lo != null"}], "mark": {"type": "area", "color": "#7ea8ca", "opacity": 0.9, "clip": true},
         "encoding": {"x": {"field": "w", "type": "quantitative", "scale": {"domain": [3300, 9500], "nice": false}, "axis": {"orient": "bottom", "values": [4000, 6000, 8000], "labels": false, "title": null}},
                      "y": {"field": "lo", "type": "quantitative", "scale": {"domain": [0, 280], "nice": false}, "axis": {"orient": "left", "values": [70, 140, 210], "labels": false, "title": null}},
                      "y2": {"field": "hi"}, "detail": {"field": "s"}}},
        {"transform": [{"filter": "datum.t == null && datum.lo == null"}], "mark": {"type": "line", "color": "#4682b4", "strokeWidth": 1.3, "clip": true},
         "encoding": {"x": {"field": "w", "type": "quantitative", "axis": null}, "y": {"field": "f", "type": "quantitative", "axis": null}, "detail": {"field": "s"}}},
        {"transform": [{"filter": "datum.lo != null"}], "mark": {"type": "line", "color": "#b22222", "strokeWidth": 2, "clip": true},
         "encoding": {"x": {"field": "w", "type": "quantitative", "axis": null}, "y": {"field": "f", "type": "quantitative", "axis": null}, "detail": {"field": "s"}}},
        {"transform": [{"filter": "datum.t != null"}], "mark": {"type": "text", "align": "left", "baseline": "middle", "fontSize": 19, "font": "DejaVu Sans", "color": "black"},
         "encoding": {"x": {"field": "w", "type": "quantitative", "axis": {"orient": "top", "values": [4000, 6000, 8000], "labels": false, "title": null}},
                      "y": {"field": "f", "type": "quantitative", "axis": {"orient": "right", "values": [70, 140, 210], "labels": false, "title": null}},
                      "text": {"field": "t"}}}
       ]}},
    {"transform": [{"filter": "datum.p >= 9 && datum.p <= 12"}],
     "facet": {"column": {"field": "p", "type": "ordinal", "header": {"title": null, "labels": false}}},
     "spacing": 12, "bounds": "flush",
     "resolve": {"axis": {"x": "independent", "y": "independent"}},
     "spec": {"width": 237, "height": 280,
       "resolve": {"axis": {"x": "independent", "y": "independent"}},
       "layer": [
        {"transform": [{"filter": "datum.lo != null"}], "mark": {"type": "area", "color": "#7ea8ca", "opacity": 0.9, "clip": true},
         "encoding": {"x": {"field": "w", "type": "quantitative", "scale": {"domain": [3300, 9500], "nice": false}, "axis": {"orient": "bottom", "values": [4000, 6000, 8000], "labels": false, "title": null}},
                      "y": {"field": "lo", "type": "quantitative", "scale": {"domain": [0, 280], "nice": false}, "axis": {"orient": "left", "values": [70, 140, 210], "labels": false, "title": null}},
                      "y2": {"field": "hi"}, "detail": {"field": "s"}}},
        {"transform": [{"filter": "datum.t == null && datum.lo == null"}], "mark": {"type": "line", "color": "#4682b4", "strokeWidth": 1.3, "clip": true},
         "encoding": {"x": {"field": "w", "type": "quantitative", "axis": null}, "y": {"field": "f", "type": "quantitative", "axis": null}, "detail": {"field": "s"}}},
        {"transform": [{"filter": "datum.lo != null"}], "mark": {"type": "line", "color": "#b22222", "strokeWidth": 2, "clip": true},
         "encoding": {"x": {"field": "w", "type": "quantitative", "axis": null}, "y": {"field": "f", "type": "quantitative", "axis": null}, "detail": {"field": "s"}}},
        {"transform": [{"filter": "datum.t != null"}], "mark": {"type": "text", "align": "left", "baseline": "middle", "fontSize": 19, "font": "DejaVu Sans", "color": "black"},
         "encoding": {"x": {"field": "w", "type": "quantitative", "axis": {"orient": "top", "values": [4000, 6000, 8000], "labels": false, "title": null}},
                      "y": {"field": "f", "type": "quantitative", "axis": {"orient": "right", "values": [70, 140, 210], "labels": false, "title": null}},
                      "text": {"field": "t"}}}
       ]}},
    {"transform": [{"filter": "datum.p >= 13"}],
     "facet": {"column": {"field": "p", "type": "ordinal", "header": {"title": null, "labels": false}}},
     "spacing": 12, "bounds": "flush",
     "resolve": {"axis": {"x": "independent", "y": "independent"}},
     "spec": {"width": 237, "height": 280,
       "resolve": {"axis": {"x": "independent", "y": "independent"}},
       "layer": [
        {"transform": [{"filter": "datum.lo != null"}], "mark": {"type": "area", "color": "#7ea8ca", "opacity": 0.9, "clip": true},
         "encoding": {"x": {"field": "w", "type": "quantitative", "scale": {"domain": [3300, 9500], "nice": false}, "axis": {"orient": "bottom", "values": [4000, 6000, 8000], "labels": true, "format": "d", "title": null}},
                      "y": {"field": "lo", "type": "quantitative", "scale": {"domain": [0, 280], "nice": false}, "axis": {"orient": "left", "values": [70, 140, 210], "labels": false, "title": null}},
                      "y2": {"field": "hi"}, "detail": {"field": "s"}}},
        {"transform": [{"filter": "datum.t == null && datum.lo == null"}], "mark": {"type": "line", "color": "#4682b4", "strokeWidth": 1.3, "clip": true},
         "encoding": {"x": {"field": "w", "type": "quantitative", "axis": null}, "y": {"field": "f", "type": "quantitative", "axis": null}, "detail": {"field": "s"}}},
        {"transform": [{"filter": "datum.lo != null"}], "mark": {"type": "line", "color": "#b22222", "strokeWidth": 2, "clip": true},
         "encoding": {"x": {"field": "w", "type": "quantitative", "axis": null}, "y": {"field": "f", "type": "quantitative", "axis": null}, "detail": {"field": "s"}}},
        {"transform": [{"filter": "datum.t != null"}], "mark": {"type": "text", "align": "left", "baseline": "middle", "fontSize": 19, "font": "DejaVu Sans", "color": "black"},
         "encoding": {"x": {"field": "w", "type": "quantitative", "axis": {"orient": "top", "values": [4000, 6000, 8000], "labels": false, "title": null}},
                      "y": {"field": "f", "type": "quantitative", "axis": {"orient": "right", "values": [70, 140, 210], "labels": false, "title": null}},
                      "text": {"field": "t"}}}
       ]}}
  ]
}],
"config": {
  "view": {"stroke": "black", "strokeWidth": 1.2},
  "axis": {"domain": false, "grid": false, "tickColor": "black", "tickSize": -5, "tickWidth": 1, "labelFont": "DejaVu Sans", "labelFontSize": 23, "labelColor": "black", "labelPadding": 13},
  "font": "DejaVu Sans"
}
}
